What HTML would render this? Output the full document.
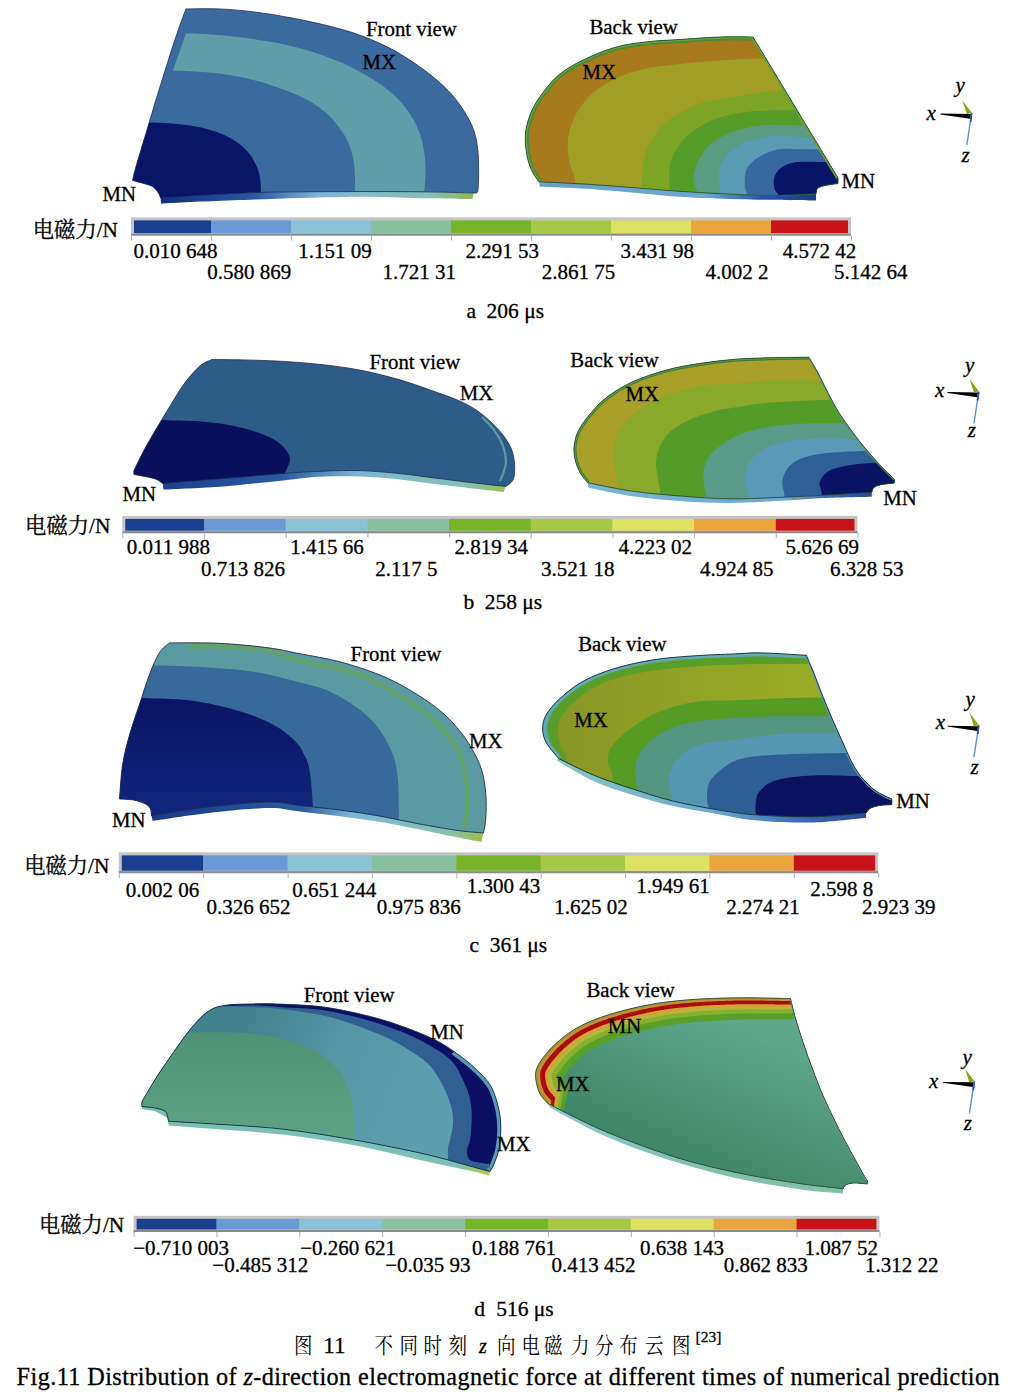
<!DOCTYPE html>
<html><head><meta charset="utf-8"><title>Fig.11</title>
<style>
html,body{margin:0;padding:0;background:#fff;}
body{width:1012px;height:1398px;overflow:hidden;}
svg{display:block;}
text{font-family:"Liberation Serif","Noto Serif CJK SC",serif;fill:#000;stroke:#000;stroke-width:0.3px;}
</style></head><body>
<svg width="1012" height="1398" viewBox="0 0 1012 1398">
<defs>
<linearGradient id="gCo" x1="560" y1="0" x2="800" y2="0" gradientUnits="userSpaceOnUse">
 <stop offset="0" stop-color="#889624"/><stop offset="1" stop-color="#98ac26"/></linearGradient>
<linearGradient id="gCn" x1="0" y1="700" x2="0" y2="820" gradientUnits="userSpaceOnUse">
 <stop offset="0" stop-color="#0a1464"/><stop offset="1" stop-color="#12267e"/></linearGradient>
<linearGradient id="gDt" x1="250" y1="1010" x2="420" y2="1080" gradientUnits="userSpaceOnUse">
 <stop offset="0" stop-color="#42828e"/><stop offset="0.5" stop-color="#5596a4"/><stop offset="1" stop-color="#5d9eac"/></linearGradient>
<linearGradient id="gDs" x1="0" y1="1030" x2="0" y2="1130" gradientUnits="userSpaceOnUse">
 <stop offset="0" stop-color="#4f9277"/><stop offset="1" stop-color="#5ca181"/></linearGradient>
<linearGradient id="gDBs" x1="700" y1="1010" x2="640" y2="1160" gradientUnits="userSpaceOnUse">
 <stop offset="0" stop-color="#5ea68c"/><stop offset="1" stop-color="#3c8264"/></linearGradient>
<linearGradient id="gA" x1="161" y1="0" x2="474" y2="0" gradientUnits="userSpaceOnUse">
 <stop offset="0" stop-color="#14307e"/><stop offset="0.3" stop-color="#2a5aa0"/><stop offset="0.5" stop-color="#7ab6d6"/><stop offset="0.85" stop-color="#86c0b8"/><stop offset="1" stop-color="#8ab850"/></linearGradient>
<linearGradient id="gAB" x1="540" y1="0" x2="816" y2="0" gradientUnits="userSpaceOnUse">
 <stop offset="0" stop-color="#6aa0c8"/><stop offset="0.6" stop-color="#6aa8d0"/><stop offset="0.8" stop-color="#2a58a0"/><stop offset="1" stop-color="#1a3a8a"/></linearGradient>
<linearGradient id="gB" x1="134" y1="0" x2="505" y2="0" gradientUnits="userSpaceOnUse">
 <stop offset="0" stop-color="#1a3a8a"/><stop offset="0.4" stop-color="#2a5aa0"/><stop offset="0.6" stop-color="#7ab6d6"/><stop offset="0.9" stop-color="#86c0b0"/><stop offset="1" stop-color="#9ac050"/></linearGradient>
<linearGradient id="gBB" x1="588" y1="0" x2="870" y2="0" gradientUnits="userSpaceOnUse">
 <stop offset="0" stop-color="#7ab8d0"/><stop offset="0.7" stop-color="#6aa8d0"/><stop offset="0.85" stop-color="#3a6ab0"/><stop offset="1" stop-color="#2a4a9a"/></linearGradient>
<linearGradient id="gC" x1="154" y1="0" x2="482" y2="0" gradientUnits="userSpaceOnUse">
 <stop offset="0" stop-color="#1a3a8a"/><stop offset="0.45" stop-color="#2a5aa0"/><stop offset="0.6" stop-color="#7ab6d6"/><stop offset="0.9" stop-color="#86c0b0"/><stop offset="1" stop-color="#9ac050"/></linearGradient>
<linearGradient id="gCB" x1="558" y1="0" x2="866" y2="0" gradientUnits="userSpaceOnUse">
 <stop offset="0" stop-color="#8ac8c0"/><stop offset="0.5" stop-color="#6aa8d0"/><stop offset="0.8" stop-color="#3a6ab0"/><stop offset="1" stop-color="#2a4a9a"/></linearGradient>
<linearGradient id="gD" x1="142" y1="0" x2="490" y2="0" gradientUnits="userSpaceOnUse">
 <stop offset="0" stop-color="#7ac0b0"/><stop offset="0.9" stop-color="#7ac0b8"/><stop offset="1" stop-color="#b8c840"/></linearGradient>
<linearGradient id="gDB" x1="550" y1="0" x2="843" y2="0" gradientUnits="userSpaceOnUse">
 <stop offset="0" stop-color="#8ac8d8"/><stop offset="0.5" stop-color="#80c0b0"/><stop offset="1" stop-color="#80c0a8"/></linearGradient>

<clipPath id="cp1"><path d="M185.9 8.9 C191.3 8.9 207.2 8.4 218.5 8.9 C229.8 9.4 241.9 10.4 254.0 11.9 C266.1 13.4 278.3 15.4 291.0 17.8 C303.7 20.2 318.2 23.3 330.0 26.3 C341.8 29.3 351.1 31.8 361.6 35.8 C372.1 39.8 382.6 44.2 393.2 50.0 C403.8 55.8 415.7 63.7 424.9 70.6 C434.1 77.4 442.0 84.2 448.6 91.1 C455.2 97.9 460.2 105.1 464.4 111.7 C468.6 118.3 471.7 124.4 473.9 130.7 C476.1 137.0 477.0 143.0 477.8 149.6 C478.6 156.2 478.6 163.3 478.6 170.2 C478.6 177.1 478.6 187.0 477.8 190.8 C477.0 194.6 474.6 192.6 474.0 193.0 C465.0 192.8 441.5 192.0 420.0 191.8 C398.5 191.6 371.7 191.5 345.0 191.6 C318.3 191.7 284.0 191.8 259.8 192.4 C235.6 193.1 216.6 194.6 200.0 195.5 C183.4 196.4 167.1 197.6 160.5 198.0 C160.2 197.2 159.9 195.3 158.7 193.5 C157.5 191.7 155.7 188.6 153.3 187.0 C151.0 185.4 148.1 184.8 144.6 183.7 C141.1 182.6 134.6 180.9 132.6 180.4 C133.1 178.3 133.1 176.7 135.6 168.0 C138.1 159.3 143.4 141.7 147.4 128.5 C151.4 115.3 154.7 103.8 159.3 89.0 C163.9 74.2 170.6 52.8 175.0 39.5 C179.4 26.2 184.1 14.0 185.9 8.9 Z"/></clipPath>
<clipPath id="cp2"><path d="M753.0 37.0 C747.5 37.0 732.2 36.6 720.0 37.0 C707.8 37.4 692.2 38.7 680.0 39.5 C667.8 40.3 657.4 40.6 646.5 41.9 C635.6 43.2 625.4 44.4 614.9 47.4 C604.4 50.4 592.4 55.5 583.2 60.0 C574.0 64.5 566.1 69.0 559.5 74.3 C552.9 79.6 548.2 85.9 543.7 91.7 C539.2 97.5 535.5 103.0 532.6 109.0 C529.7 115.0 527.5 122.2 526.3 128.0 C525.1 133.8 525.2 138.5 525.5 143.8 C525.8 149.1 526.7 154.8 527.9 159.6 C529.1 164.3 530.8 168.6 532.6 172.3 C534.5 176.0 537.9 180.2 539.0 181.8 C549.0 182.3 575.5 183.4 599.0 185.0 C622.5 186.6 656.7 189.7 680.0 191.3 C703.3 192.9 723.2 193.8 739.0 194.5 C754.8 195.2 762.2 195.6 775.0 195.5 C787.8 195.4 809.2 194.2 816.0 194.0 C816.3 193.0 816.0 189.5 818.0 188.0 C820.0 186.5 824.7 185.7 828.0 185.0 C831.3 184.3 836.3 183.8 838.0 183.6 L838.0 178.0 L753.0 37.0 Z"/></clipPath>
<clipPath id="cp3"><path d="M212.0 359.5 C217.3 359.6 231.8 359.6 243.6 359.9 C255.4 360.2 270.4 360.6 283.1 361.4 C295.8 362.1 307.3 363.0 320.0 364.4 C332.7 365.8 346.3 367.5 359.5 370.0 C372.7 372.5 387.5 376.4 399.0 379.6 C410.5 382.9 418.8 386.0 428.7 389.5 C438.6 393.0 450.1 396.8 458.3 400.4 C466.5 404.0 472.1 407.2 478.0 411.3 C483.9 415.4 489.4 420.5 494.0 425.1 C498.6 429.7 502.7 434.3 505.8 438.9 C508.9 443.5 511.2 447.9 512.7 452.8 C514.2 457.8 514.7 464.0 514.7 468.6 C514.7 473.2 514.2 477.4 512.7 480.4 C511.2 483.4 507.0 485.4 505.8 486.4 C501.2 485.9 489.2 484.7 478.0 483.4 C466.8 482.1 451.8 480.1 438.6 478.5 C425.4 476.9 412.2 474.8 399.0 473.5 C385.8 472.2 372.7 471.0 359.5 470.6 C346.3 470.2 332.7 470.8 320.0 471.3 C307.3 471.8 299.1 472.3 283.1 473.5 C267.1 474.7 243.9 476.9 223.8 478.5 C203.7 480.1 172.7 482.6 162.5 483.4 C161.5 482.7 159.5 480.5 156.6 479.4 C153.7 478.2 148.6 477.3 144.8 476.5 C141.0 475.7 135.7 474.8 133.9 474.5 L133.9 470.6 C135.7 467.0 140.7 456.4 144.8 448.8 C148.9 441.2 154.3 432.2 158.6 425.0 C162.9 417.8 166.2 412.2 170.5 405.3 C174.8 398.4 179.4 390.2 184.3 383.6 C189.2 377.0 195.4 369.8 200.0 365.8 C204.6 361.8 210.0 360.6 212.0 359.5 Z"/></clipPath>
<clipPath id="cp4"><path d="M808.9 357.2 C802.0 357.3 779.9 357.4 767.6 357.8 C755.3 358.2 746.4 358.4 735.0 359.3 C723.6 360.2 710.9 361.7 699.4 363.5 C687.9 365.3 677.0 367.1 665.8 370.2 C654.6 373.3 642.0 377.5 632.2 382.0 C622.4 386.5 614.0 391.8 607.0 397.1 C600.0 402.4 595.0 408.3 590.2 413.9 C585.4 419.5 581.1 425.4 578.4 430.7 C575.7 436.0 574.8 441.1 574.2 445.8 C573.6 450.6 574.0 454.7 575.0 459.2 C576.0 463.7 578.0 468.8 580.1 472.7 C582.2 476.6 586.4 481.0 587.7 482.7 C595.1 484.1 616.4 488.9 632.2 491.1 C648.0 493.4 666.3 494.9 682.6 496.2 C698.9 497.5 712.7 498.6 730.0 498.8 C747.3 499.0 770.6 497.7 786.3 497.1 C801.9 496.5 809.6 496.0 823.9 495.2 C838.1 494.4 863.8 492.9 871.8 492.4 C872.1 491.6 872.2 488.9 873.6 487.7 C875.0 486.4 876.8 485.7 880.2 484.9 C883.7 484.1 891.9 483.3 894.3 483.0 L894.3 479.2 C891.9 476.9 885.1 470.3 880.2 465.2 C875.4 460.1 869.9 453.9 865.2 448.3 C860.5 442.7 856.4 437.3 852.0 431.4 C847.6 425.4 843.0 419.2 838.9 412.6 C834.8 406.0 831.0 398.6 827.6 392.0 C824.2 385.4 821.3 379.0 818.2 373.2 C815.1 367.4 810.5 359.9 808.9 357.2 Z"/></clipPath>
<clipPath id="cp5"><path d="M169.3 642.9 C177.5 643.0 202.2 642.5 218.7 643.3 C235.2 644.1 254.6 646.0 268.1 647.8 C281.7 649.5 288.1 651.5 300.0 653.8 C311.9 656.1 326.3 658.2 339.5 661.7 C352.7 665.2 367.5 670.0 379.0 674.6 C390.5 679.2 398.8 683.6 408.7 689.4 C418.6 695.2 430.1 702.6 438.3 709.2 C446.5 715.8 452.5 722.3 458.1 728.9 C463.7 735.5 467.9 741.8 471.9 748.7 C475.8 755.6 479.5 762.8 481.8 770.4 C484.1 778.0 485.1 786.3 485.8 794.2 C486.5 802.1 486.2 811.4 485.8 817.9 C485.4 824.4 483.9 830.5 483.5 833.0 C479.3 832.6 468.9 832.0 458.1 830.5 C447.3 829.0 431.8 826.2 418.6 823.8 C405.4 821.4 392.2 818.2 379.0 815.9 C365.8 813.6 352.7 811.7 339.5 810.0 C326.3 808.3 311.9 806.8 300.0 805.5 C288.1 804.2 283.3 801.8 268.1 802.0 C252.9 802.2 228.2 804.7 208.8 807.0 C189.4 809.3 161.1 814.3 151.5 815.8 C151.3 814.7 151.5 811.0 150.5 809.0 C149.5 807.0 148.4 805.5 145.6 804.0 C142.8 802.5 138.0 800.8 133.7 800.0 C129.3 799.2 121.9 799.2 119.5 799.0 C119.6 798.0 119.4 799.0 119.9 793.1 C120.5 787.2 121.1 773.4 122.8 763.5 C124.5 753.6 127.0 743.7 129.8 733.8 C132.6 723.9 136.3 714.1 139.6 704.2 C142.9 694.3 146.2 683.1 149.5 674.5 C152.8 665.9 156.1 658.1 159.4 652.8 C162.7 647.5 167.7 644.5 169.3 642.9 Z"/></clipPath>
<clipPath id="cp6"><path d="M806.4 655.3 C798.9 654.9 773.2 653.1 761.3 652.9 C749.4 652.7 746.4 653.4 735.0 653.9 C723.6 654.4 706.7 654.9 693.1 655.9 C679.5 656.9 666.8 657.7 653.6 659.8 C640.4 661.9 625.5 665.2 614.0 668.7 C602.5 672.2 592.6 676.3 584.4 680.6 C576.2 684.9 570.2 689.8 564.6 694.4 C559.0 699.0 554.2 703.9 550.8 708.2 C547.3 712.5 545.2 716.1 543.9 720.1 C542.6 724.1 542.4 728.0 542.9 732.0 C543.4 736.0 544.3 739.4 546.9 743.8 C549.5 748.2 556.7 756.1 558.7 758.6 C564.6 761.4 581.8 770.3 594.3 775.4 C606.8 780.5 620.6 785.0 633.8 789.3 C647.0 793.6 658.9 797.6 673.3 801.1 C687.7 804.6 706.0 807.9 720.0 810.2 C734.0 812.5 742.0 813.9 757.6 815.0 C773.2 816.1 795.8 817.1 813.9 816.8 C832.0 816.5 857.4 813.6 866.1 813.0 C866.8 812.2 868.0 809.5 870.2 808.3 C872.5 807.0 876.0 806.1 879.6 805.5 C883.2 804.9 889.8 804.8 891.8 804.6 L891.8 799.0 C890.7 798.5 888.2 797.7 885.2 796.1 C882.2 794.5 878.1 792.9 874.0 789.6 C869.9 786.3 864.6 781.1 860.8 776.4 C857.0 771.7 854.5 767.3 851.4 761.4 C848.3 755.5 845.1 747.7 842.0 740.8 C838.9 733.9 835.8 727.3 832.7 720.1 C829.6 712.9 826.4 705.4 823.3 697.6 C820.2 689.8 816.7 680.2 813.9 673.2 C811.1 666.2 807.6 658.3 806.4 655.3 Z"/></clipPath>
<clipPath id="cp7"><path d="M141.9 1101.7 C144.1 1098.1 150.7 1086.6 154.8 1080.0 C158.9 1073.4 162.3 1068.5 166.6 1062.2 C170.9 1055.9 175.9 1048.7 180.5 1042.4 C185.1 1036.1 189.7 1029.8 194.3 1024.6 C198.9 1019.4 203.1 1014.7 208.0 1011.5 C212.9 1008.3 216.4 1006.8 224.0 1005.5 C231.6 1004.2 244.3 1004.1 253.6 1003.9 C262.9 1003.7 268.4 1003.6 280.0 1004.1 C291.6 1004.6 309.0 1005.1 323.5 1007.0 C338.0 1008.9 354.3 1012.6 367.0 1015.7 C379.7 1018.8 388.7 1021.6 399.6 1025.4 C410.5 1029.2 423.1 1034.2 432.2 1038.5 C441.3 1042.8 446.8 1046.4 454.0 1051.5 C461.2 1056.6 469.6 1063.1 475.7 1068.9 C481.8 1074.7 487.0 1079.5 490.9 1086.3 C494.8 1093.1 497.2 1102.4 498.9 1109.6 C500.5 1116.8 500.8 1122.8 500.8 1129.4 C500.8 1136.0 500.0 1143.3 498.9 1149.1 C497.8 1154.9 495.5 1160.3 494.0 1164.0 C492.5 1167.7 490.7 1170.2 490.0 1171.5 C488.0 1171.0 488.9 1171.2 478.0 1168.3 C467.1 1165.4 445.4 1158.8 424.6 1154.0 C403.8 1149.2 377.1 1144.0 353.4 1139.8 C329.7 1135.6 306.0 1131.8 282.3 1129.1 C258.6 1126.4 230.1 1125.1 211.1 1123.8 C192.1 1122.5 175.6 1121.7 168.5 1121.3 C168.3 1120.5 168.2 1118.4 167.6 1116.7 C167.0 1115.0 167.0 1112.5 164.9 1111.0 C162.8 1109.5 158.6 1108.8 154.8 1108.0 C151.0 1107.2 144.1 1106.8 141.9 1106.5 L141.9 1101.7 Z"/></clipPath>
<clipPath id="cp8"><path d="M790.5 998.5 C781.6 998.4 754.0 997.6 736.9 997.8 C719.8 998.0 702.8 998.6 688.1 999.8 C673.4 1001.0 661.8 1002.3 648.6 1004.8 C635.4 1007.3 620.5 1011.0 609.0 1014.6 C597.5 1018.2 587.6 1022.2 579.4 1026.5 C571.2 1030.8 565.2 1035.7 559.6 1040.3 C554.0 1044.9 549.6 1049.6 545.8 1054.2 C542.0 1058.8 538.5 1063.7 536.9 1068.0 C535.2 1072.3 535.4 1075.6 535.9 1079.9 C536.4 1084.2 537.9 1089.8 539.9 1093.7 C541.9 1097.7 546.5 1101.9 547.8 1103.6 C555.7 1107.5 579.6 1120.1 595.0 1127.0 C610.4 1133.9 624.2 1139.2 640.0 1145.0 C655.8 1150.8 672.3 1156.6 690.0 1161.5 C707.7 1166.4 727.5 1170.8 746.3 1174.6 C765.1 1178.3 786.6 1181.7 802.7 1184.0 C818.8 1186.3 836.3 1187.9 843.0 1188.7 C843.5 1188.1 844.1 1185.9 845.8 1185.0 C847.5 1184.1 849.7 1183.3 853.3 1183.1 C856.9 1182.9 865.0 1183.8 867.4 1184.0 L867.4 1180.3 C866.9 1179.7 866.6 1180.0 864.6 1176.5 C862.6 1173.0 858.6 1165.8 855.2 1159.6 C851.8 1153.3 847.8 1146.2 844.0 1139.0 C840.2 1131.8 836.5 1124.2 832.7 1116.4 C828.9 1108.6 824.9 1100.1 821.4 1092.0 C817.9 1083.9 815.1 1076.0 812.0 1067.6 C808.9 1059.1 805.5 1049.8 802.7 1041.3 C799.9 1032.8 797.1 1024.0 795.1 1016.9 C793.1 1009.8 791.3 1001.6 790.5 998.5 Z"/></clipPath></defs>
<rect width="1012" height="1398" fill="#fff"/>
<path d="M160.5 197.5 C167.1 197.1 183.4 195.9 200.0 195.0 C216.6 194.1 235.6 192.6 259.8 191.9 C284.0 191.2 318.3 191.2 345.0 191.1 C371.7 191.0 398.5 191.1 420.0 191.3 C441.5 191.5 465.0 192.3 474.0 192.5 L472.3 199.0 C463.6 198.9 441.2 198.5 420.0 198.2 C398.8 197.8 376.1 196.6 345.0 196.9 C313.9 197.2 264.4 199.1 233.7 200.2 C203.0 201.3 173.1 202.9 161.0 203.5 Z" fill="url(#gA)"/>
<path d="M185.9 8.9 C191.3 8.9 207.2 8.4 218.5 8.9 C229.8 9.4 241.9 10.4 254.0 11.9 C266.1 13.4 278.3 15.4 291.0 17.8 C303.7 20.2 318.2 23.3 330.0 26.3 C341.8 29.3 351.1 31.8 361.6 35.8 C372.1 39.8 382.6 44.2 393.2 50.0 C403.8 55.8 415.7 63.7 424.9 70.6 C434.1 77.4 442.0 84.2 448.6 91.1 C455.2 97.9 460.2 105.1 464.4 111.7 C468.6 118.3 471.7 124.4 473.9 130.7 C476.1 137.0 477.0 143.0 477.8 149.6 C478.6 156.2 478.6 163.3 478.6 170.2 C478.6 177.1 478.6 187.0 477.8 190.8 C477.0 194.6 474.6 192.6 474.0 193.0 C465.0 192.8 441.5 192.0 420.0 191.8 C398.5 191.6 371.7 191.5 345.0 191.6 C318.3 191.7 284.0 191.8 259.8 192.4 C235.6 193.1 216.6 194.6 200.0 195.5 C183.4 196.4 167.1 197.6 160.5 198.0 C160.2 197.2 159.9 195.3 158.7 193.5 C157.5 191.7 155.7 188.6 153.3 187.0 C151.0 185.4 148.1 184.8 144.6 183.7 C141.1 182.6 134.6 180.9 132.6 180.4 C133.1 178.3 133.1 176.7 135.6 168.0 C138.1 159.3 143.4 141.7 147.4 128.5 C151.4 115.3 154.7 103.8 159.3 89.0 C163.9 74.2 170.6 52.8 175.0 39.5 C179.4 26.2 184.1 14.0 185.9 8.9 Z" fill="#3a6a9e"/>
<g clip-path="url(#cp1)">
<path d="M186.0 33.3 C192.4 33.7 210.7 34.2 224.5 35.6 C238.3 37.0 255.4 39.1 269.0 41.5 C282.6 43.9 294.2 46.6 306.0 50.0 C317.8 53.4 329.3 57.4 340.0 62.0 C350.7 66.6 361.0 72.0 370.0 77.5 C379.0 83.0 387.3 88.9 394.0 95.0 C400.7 101.1 405.7 107.5 410.0 114.0 C414.3 120.5 417.6 127.2 420.0 134.0 C422.4 140.8 423.7 148.2 424.6 155.0 C425.5 161.8 425.6 168.3 425.5 175.0 C425.4 181.7 424.2 191.7 424.0 195.0 L354.5 195.0 C354.6 192.5 355.2 185.8 355.0 180.0 C354.8 174.2 354.7 166.3 353.5 160.0 C352.3 153.7 350.6 147.7 348.0 142.0 C345.4 136.3 342.0 131.2 338.0 126.0 C334.0 120.8 330.5 116.0 324.0 111.0 C317.5 106.0 310.4 100.8 299.0 95.7 C287.6 90.6 269.9 84.2 255.4 80.4 C240.9 76.6 225.8 74.4 212.0 72.8 C198.2 71.2 179.3 71.0 172.8 70.7 Z" fill="#5f9ea8"/>
<path d="M140.0 122.6 C144.2 122.7 156.7 122.5 165.0 123.0 C173.3 123.5 182.2 124.2 190.0 125.5 C197.8 126.8 205.0 128.2 212.0 130.5 C219.0 132.8 226.2 135.6 232.0 139.0 C237.8 142.4 242.9 146.5 247.0 151.0 C251.1 155.5 254.3 161.2 256.5 166.0 C258.7 170.8 259.6 174.7 260.3 180.0 C261.1 185.3 260.9 195.0 261.0 198.0 L120.0 205.0 L120.0 122.6 Z" fill="#0a1567"/>

</g>
<path d="M185.9 8.9 C191.3 8.9 207.2 8.4 218.5 8.9 C229.8 9.4 241.9 10.4 254.0 11.9 C266.1 13.4 278.3 15.4 291.0 17.8 C303.7 20.2 318.2 23.3 330.0 26.3 C341.8 29.3 351.1 31.8 361.6 35.8 C372.1 39.8 382.6 44.2 393.2 50.0 C403.8 55.8 415.7 63.7 424.9 70.6 C434.1 77.4 442.0 84.2 448.6 91.1 C455.2 97.9 460.2 105.1 464.4 111.7 C468.6 118.3 471.7 124.4 473.9 130.7 C476.1 137.0 477.0 143.0 477.8 149.6 C478.6 156.2 478.6 163.3 478.6 170.2 C478.6 177.1 478.6 187.0 477.8 190.8 C477.0 194.6 474.6 192.6 474.0 193.0 C465.0 192.8 441.5 192.0 420.0 191.8 C398.5 191.6 371.7 191.5 345.0 191.6 C318.3 191.7 284.0 191.8 259.8 192.4 C235.6 193.1 216.6 194.6 200.0 195.5 C183.4 196.4 167.1 197.6 160.5 198.0 C160.2 197.2 159.9 195.3 158.7 193.5 C157.5 191.7 155.7 188.6 153.3 187.0 C151.0 185.4 148.1 184.8 144.6 183.7 C141.1 182.6 134.6 180.9 132.6 180.4 C133.1 178.3 133.1 176.7 135.6 168.0 C138.1 159.3 143.4 141.7 147.4 128.5 C151.4 115.3 154.7 103.8 159.3 89.0 C163.9 74.2 170.6 52.8 175.0 39.5 C179.4 26.2 184.1 14.0 185.9 8.9 Z" fill="none" stroke="#1a2c5a" stroke-width="0.8"/>
<path d="M539.0 181.0 C549.0 181.5 575.5 182.6 599.0 184.2 C622.5 185.8 656.7 188.9 680.0 190.5 C703.3 192.1 723.2 193.0 739.0 193.7 C754.8 194.4 762.2 194.8 775.0 194.7 C787.8 194.6 809.2 193.4 816.0 193.2 L816.0 200.5 C803.2 200.3 761.7 199.9 739.0 199.3 C716.3 198.7 703.3 198.4 680.0 196.8 C656.7 195.2 622.4 191.4 599.0 189.7 C575.6 188.0 549.7 187.3 539.8 186.8 Z" fill="url(#gAB)"/>
<path d="M753.0 37.0 C747.5 37.0 732.2 36.6 720.0 37.0 C707.8 37.4 692.2 38.7 680.0 39.5 C667.8 40.3 657.4 40.6 646.5 41.9 C635.6 43.2 625.4 44.4 614.9 47.4 C604.4 50.4 592.4 55.5 583.2 60.0 C574.0 64.5 566.1 69.0 559.5 74.3 C552.9 79.6 548.2 85.9 543.7 91.7 C539.2 97.5 535.5 103.0 532.6 109.0 C529.7 115.0 527.5 122.2 526.3 128.0 C525.1 133.8 525.2 138.5 525.5 143.8 C525.8 149.1 526.7 154.8 527.9 159.6 C529.1 164.3 530.8 168.6 532.6 172.3 C534.5 176.0 537.9 180.2 539.0 181.8 C549.0 182.3 575.5 183.4 599.0 185.0 C622.5 186.6 656.7 189.7 680.0 191.3 C703.3 192.9 723.2 193.8 739.0 194.5 C754.8 195.2 762.2 195.6 775.0 195.5 C787.8 195.4 809.2 194.2 816.0 194.0 C816.3 193.0 816.0 189.5 818.0 188.0 C820.0 186.5 824.7 185.7 828.0 185.0 C831.3 184.3 836.3 183.8 838.0 183.6 L838.0 178.0 L753.0 37.0 Z" fill="#a87a1e"/>
<g clip-path="url(#cp2)">
<path d="M756.0 58.5 C750.0 58.8 732.7 59.6 720.0 60.5 C707.3 61.4 692.2 62.7 680.0 64.0 C667.8 65.3 656.5 66.4 646.5 68.5 C636.5 70.6 627.8 73.3 620.0 76.5 C612.2 79.7 605.8 83.4 600.0 87.5 C594.2 91.6 589.3 95.9 585.0 101.0 C580.7 106.1 576.8 111.7 574.0 118.0 C571.2 124.3 568.8 132.0 568.0 139.0 C567.2 146.0 567.8 153.1 569.0 160.0 C570.2 166.9 573.8 174.0 575.0 180.2 C576.2 186.4 575.8 194.2 576.0 197.0 L900.0 210.0 L900.0 58.5 Z" fill="#a09e24"/>
<path d="M785.0 88.0 C784.5 88.3 786.2 89.2 782.0 90.0 C777.8 90.8 767.2 91.5 760.0 92.5 C752.8 93.5 748.9 94.0 738.8 95.9 C728.7 97.8 710.8 99.8 699.3 103.8 C687.8 107.8 677.5 113.7 669.6 119.6 C661.7 125.5 656.2 132.8 651.9 139.4 C647.6 146.0 645.6 152.6 644.0 159.2 C642.4 165.8 642.3 172.6 642.0 178.9 C641.7 185.2 642.0 194.0 642.0 197.0 L900.0 210.0 L900.0 88.0 Z" fill="#7ea426"/>
<path d="M797.0 109.8 C796.5 109.8 798.5 109.7 794.0 109.8 C789.5 109.9 777.5 110.2 770.0 110.5 C762.5 110.8 757.2 110.5 748.7 111.7 C740.2 112.9 727.9 114.7 719.0 117.7 C710.1 120.7 702.2 124.6 695.3 129.5 C688.4 134.4 681.8 141.0 677.5 147.3 C673.2 153.6 670.9 160.2 669.6 167.1 C668.3 174.0 669.5 183.8 669.6 188.8 C669.7 193.8 669.9 195.6 670.0 197.0 L900.0 210.0 L900.0 109.8 Z" fill="#569c28"/>
<path d="M806.0 125.6 C805.7 125.6 808.3 125.7 804.0 125.6 C799.7 125.5 787.6 125.0 780.0 125.0 C772.4 125.0 767.1 124.2 758.6 125.6 C750.1 127.0 737.2 130.2 729.0 133.5 C720.8 136.8 714.5 140.4 709.2 145.3 C703.9 150.2 699.9 157.5 697.3 163.1 C694.7 168.7 693.4 173.9 693.4 178.9 C693.4 183.9 696.5 189.8 697.3 192.8 C698.1 195.8 697.9 196.3 698.0 197.0 L900.0 210.0 L900.0 125.6 Z" fill="#5a9b84"/>
<path d="M812.0 137.4 C811.7 137.4 813.7 137.6 810.0 137.4 C806.3 137.2 796.9 136.7 790.0 136.5 C783.1 136.3 776.4 135.2 768.5 136.4 C760.6 137.6 749.7 140.3 742.8 143.4 C735.9 146.5 731.0 150.3 727.0 155.2 C723.0 160.1 720.0 166.7 719.0 173.0 C718.0 179.3 720.7 188.8 721.0 192.8 C721.3 196.8 721.0 196.3 721.0 197.0 L900.0 210.0 L900.0 137.4 Z" fill="#5a9bb4"/>
<path d="M820.0 149.3 C819.7 149.3 821.3 149.3 818.0 149.3 C814.7 149.3 806.6 149.2 800.0 149.2 C793.4 149.2 785.2 148.0 778.3 149.3 C771.4 150.6 763.9 153.9 758.6 157.2 C753.3 160.5 749.0 164.4 746.7 169.0 C744.4 173.6 744.7 180.9 744.7 184.9 C744.7 188.9 746.3 190.8 746.7 192.8 C747.1 194.8 747.0 196.3 747.0 197.0 L900.0 210.0 L900.0 149.3 Z" fill="#3769a0"/>
<path d="M828.0 162.1 C827.6 162.1 830.8 162.1 825.8 162.1 C820.8 162.1 805.2 161.3 798.0 162.1 C790.8 162.9 786.2 164.6 782.3 167.1 C778.4 169.6 775.7 173.4 774.4 177.0 C773.1 180.6 773.8 185.9 774.4 188.8 C775.0 191.8 777.5 192.8 778.3 194.7 C779.1 196.6 778.9 199.1 779.0 200.0 L900.0 210.0 L900.0 162.1 Z" fill="#0a1466"/>
<path d="M753.0 37.0 C747.5 37.0 732.2 36.6 720.0 37.0 C707.8 37.4 692.2 38.7 680.0 39.5 C667.8 40.3 657.4 40.6 646.5 41.9 C635.6 43.2 625.4 44.4 614.9 47.4 C604.4 50.4 592.4 55.5 583.2 60.0 C574.0 64.5 566.1 69.0 559.5 74.3 C552.9 79.6 548.2 85.9 543.7 91.7 C539.2 97.5 535.5 103.0 532.6 109.0 C529.7 115.0 527.5 122.2 526.3 128.0 C525.1 133.8 525.2 138.5 525.5 143.8 C525.8 149.1 526.7 154.8 527.9 159.6 C529.1 164.3 530.8 168.6 532.6 172.3 C534.5 176.0 537.9 180.2 539.0 181.8" fill="none" stroke="#4a8a3a" stroke-width="7" stroke-linejoin="round"/>
<path d="M753.0 37.0 C747.5 37.0 732.2 36.6 720.0 37.0 C707.8 37.4 692.2 38.7 680.0 39.5 C667.8 40.3 657.4 40.6 646.5 41.9 C635.6 43.2 625.4 44.4 614.9 47.4 C604.4 50.4 592.4 55.5 583.2 60.0 C574.0 64.5 566.1 69.0 559.5 74.3 C552.9 79.6 548.2 85.9 543.7 91.7 C539.2 97.5 535.5 103.0 532.6 109.0 C529.7 115.0 527.5 122.2 526.3 128.0 C525.1 133.8 525.2 138.5 525.5 143.8 C525.8 149.1 526.7 154.8 527.9 159.6 C529.1 164.3 530.8 168.6 532.6 172.3 C534.5 176.0 537.9 180.2 539.0 181.8" fill="none" stroke="#6aa23a" stroke-width="3.5" stroke-linejoin="round"/>
<path d="M753 37 L838 178" fill="none" stroke="#6aa23a" stroke-width="4" stroke-linejoin="round"/>

</g>
<path d="M753.0 37.0 C747.5 37.0 732.2 36.6 720.0 37.0 C707.8 37.4 692.2 38.7 680.0 39.5 C667.8 40.3 657.4 40.6 646.5 41.9 C635.6 43.2 625.4 44.4 614.9 47.4 C604.4 50.4 592.4 55.5 583.2 60.0 C574.0 64.5 566.1 69.0 559.5 74.3 C552.9 79.6 548.2 85.9 543.7 91.7 C539.2 97.5 535.5 103.0 532.6 109.0 C529.7 115.0 527.5 122.2 526.3 128.0 C525.1 133.8 525.2 138.5 525.5 143.8 C525.8 149.1 526.7 154.8 527.9 159.6 C529.1 164.3 530.8 168.6 532.6 172.3 C534.5 176.0 537.9 180.2 539.0 181.8 C549.0 182.3 575.5 183.4 599.0 185.0 C622.5 186.6 656.7 189.7 680.0 191.3 C703.3 192.9 723.2 193.8 739.0 194.5 C754.8 195.2 762.2 195.6 775.0 195.5 C787.8 195.4 809.2 194.2 816.0 194.0 C816.3 193.0 816.0 189.5 818.0 188.0 C820.0 186.5 824.7 185.7 828.0 185.0 C831.3 184.3 836.3 183.8 838.0 183.6 L838.0 178.0 L753.0 37.0 Z" fill="none" stroke="#2a5a3a" stroke-width="1.0"/>
<path d="M162.5 482.4 C172.7 481.6 203.7 479.1 223.8 477.5 C243.9 475.9 267.1 473.7 283.1 472.5 C299.1 471.3 307.3 470.8 320.0 470.3 C332.7 469.8 346.3 469.2 359.5 469.6 C372.7 470.0 385.8 471.2 399.0 472.5 C412.2 473.8 425.4 475.9 438.6 477.5 C451.8 479.1 466.8 481.1 478.0 482.4 C489.2 483.7 501.2 484.9 505.8 485.4 L503.8 491.9 C492.9 490.6 459.4 486.8 438.6 484.4 C417.9 482.0 398.2 478.8 379.3 477.5 C360.4 476.2 341.0 476.0 325.0 476.5 C309.0 477.0 300.0 478.8 283.1 480.4 C266.2 482.0 243.7 484.9 223.8 486.4 C203.9 487.9 173.6 489.0 163.5 489.5 Z" fill="url(#gB)"/>
<path d="M212.0 359.5 C217.3 359.6 231.8 359.6 243.6 359.9 C255.4 360.2 270.4 360.6 283.1 361.4 C295.8 362.1 307.3 363.0 320.0 364.4 C332.7 365.8 346.3 367.5 359.5 370.0 C372.7 372.5 387.5 376.4 399.0 379.6 C410.5 382.9 418.8 386.0 428.7 389.5 C438.6 393.0 450.1 396.8 458.3 400.4 C466.5 404.0 472.1 407.2 478.0 411.3 C483.9 415.4 489.4 420.5 494.0 425.1 C498.6 429.7 502.7 434.3 505.8 438.9 C508.9 443.5 511.2 447.9 512.7 452.8 C514.2 457.8 514.7 464.0 514.7 468.6 C514.7 473.2 514.2 477.4 512.7 480.4 C511.2 483.4 507.0 485.4 505.8 486.4 C501.2 485.9 489.2 484.7 478.0 483.4 C466.8 482.1 451.8 480.1 438.6 478.5 C425.4 476.9 412.2 474.8 399.0 473.5 C385.8 472.2 372.7 471.0 359.5 470.6 C346.3 470.2 332.7 470.8 320.0 471.3 C307.3 471.8 299.1 472.3 283.1 473.5 C267.1 474.7 243.9 476.9 223.8 478.5 C203.7 480.1 172.7 482.6 162.5 483.4 C161.5 482.7 159.5 480.5 156.6 479.4 C153.7 478.2 148.6 477.3 144.8 476.5 C141.0 475.7 135.7 474.8 133.9 474.5 L133.9 470.6 C135.7 467.0 140.7 456.4 144.8 448.8 C148.9 441.2 154.3 432.2 158.6 425.0 C162.9 417.8 166.2 412.2 170.5 405.3 C174.8 398.4 179.4 390.2 184.3 383.6 C189.2 377.0 195.4 369.8 200.0 365.8 C204.6 361.8 210.0 360.6 212.0 359.5 Z" fill="#2e5c88"/>
<g clip-path="url(#cp3)">
<path d="M150.0 420.2 C152.8 420.2 159.1 420.0 166.5 420.2 C173.9 420.4 184.6 420.5 194.2 421.1 C203.8 421.8 213.9 422.5 223.8 424.1 C233.7 425.8 245.3 428.5 253.5 431.0 C261.7 433.5 267.9 436.0 273.2 439.0 C278.4 442.0 282.2 445.5 285.0 448.8 C287.8 452.1 289.7 455.4 290.0 458.7 C290.3 462.0 288.2 465.7 287.0 468.6 C285.8 471.5 283.7 474.8 283.0 476.0 L120.0 490.0 L120.0 420.2 Z" fill="#0a0f5c"/>
<path d="M482.0 417.0 C484.0 419.2 490.5 425.2 494.0 430.0 C497.5 434.8 501.0 440.7 503.0 446.0 C505.0 451.3 506.0 457.3 506.0 462.0 C506.0 466.7 504.0 470.8 503.0 474.0 C502.0 477.2 500.3 479.8 499.8 481.0" fill="none" stroke="#5a9aa0" stroke-width="2.2" stroke-linejoin="round"/>

</g>
<path d="M212.0 359.5 C217.3 359.6 231.8 359.6 243.6 359.9 C255.4 360.2 270.4 360.6 283.1 361.4 C295.8 362.1 307.3 363.0 320.0 364.4 C332.7 365.8 346.3 367.5 359.5 370.0 C372.7 372.5 387.5 376.4 399.0 379.6 C410.5 382.9 418.8 386.0 428.7 389.5 C438.6 393.0 450.1 396.8 458.3 400.4 C466.5 404.0 472.1 407.2 478.0 411.3 C483.9 415.4 489.4 420.5 494.0 425.1 C498.6 429.7 502.7 434.3 505.8 438.9 C508.9 443.5 511.2 447.9 512.7 452.8 C514.2 457.8 514.7 464.0 514.7 468.6 C514.7 473.2 514.2 477.4 512.7 480.4 C511.2 483.4 507.0 485.4 505.8 486.4 C501.2 485.9 489.2 484.7 478.0 483.4 C466.8 482.1 451.8 480.1 438.6 478.5 C425.4 476.9 412.2 474.8 399.0 473.5 C385.8 472.2 372.7 471.0 359.5 470.6 C346.3 470.2 332.7 470.8 320.0 471.3 C307.3 471.8 299.1 472.3 283.1 473.5 C267.1 474.7 243.9 476.9 223.8 478.5 C203.7 480.1 172.7 482.6 162.5 483.4 C161.5 482.7 159.5 480.5 156.6 479.4 C153.7 478.2 148.6 477.3 144.8 476.5 C141.0 475.7 135.7 474.8 133.9 474.5 L133.9 470.6 C135.7 467.0 140.7 456.4 144.8 448.8 C148.9 441.2 154.3 432.2 158.6 425.0 C162.9 417.8 166.2 412.2 170.5 405.3 C174.8 398.4 179.4 390.2 184.3 383.6 C189.2 377.0 195.4 369.8 200.0 365.8 C204.6 361.8 210.0 360.6 212.0 359.5 Z" fill="none" stroke="#1a2c50" stroke-width="0.8"/>
<path d="M587.7 481.7 C595.1 483.1 616.4 487.9 632.2 490.1 C648.0 492.4 666.3 493.9 682.6 495.2 C698.9 496.5 712.7 497.6 730.0 497.8 C747.3 498.0 770.6 496.7 786.3 496.1 C801.9 495.5 809.6 495.0 823.9 494.2 C838.1 493.4 863.8 491.9 871.8 491.4 L871.8 496.7 C863.8 496.9 838.1 497.4 823.9 498.0 C809.6 498.6 801.9 499.7 786.3 500.5 C770.6 501.3 747.3 502.8 730.0 502.9 C712.7 503.0 698.9 502.3 682.6 501.2 C666.3 500.1 647.9 498.4 632.2 496.2 C616.5 494.0 595.8 489.2 588.5 487.8 Z" fill="url(#gBB)"/>
<path d="M808.9 357.2 C802.0 357.3 779.9 357.4 767.6 357.8 C755.3 358.2 746.4 358.4 735.0 359.3 C723.6 360.2 710.9 361.7 699.4 363.5 C687.9 365.3 677.0 367.1 665.8 370.2 C654.6 373.3 642.0 377.5 632.2 382.0 C622.4 386.5 614.0 391.8 607.0 397.1 C600.0 402.4 595.0 408.3 590.2 413.9 C585.4 419.5 581.1 425.4 578.4 430.7 C575.7 436.0 574.8 441.1 574.2 445.8 C573.6 450.6 574.0 454.7 575.0 459.2 C576.0 463.7 578.0 468.8 580.1 472.7 C582.2 476.6 586.4 481.0 587.7 482.7 C595.1 484.1 616.4 488.9 632.2 491.1 C648.0 493.4 666.3 494.9 682.6 496.2 C698.9 497.5 712.7 498.6 730.0 498.8 C747.3 499.0 770.6 497.7 786.3 497.1 C801.9 496.5 809.6 496.0 823.9 495.2 C838.1 494.4 863.8 492.9 871.8 492.4 C872.1 491.6 872.2 488.9 873.6 487.7 C875.0 486.4 876.8 485.7 880.2 484.9 C883.7 484.1 891.9 483.3 894.3 483.0 L894.3 479.2 C891.9 476.9 885.1 470.3 880.2 465.2 C875.4 460.1 869.9 453.9 865.2 448.3 C860.5 442.7 856.4 437.3 852.0 431.4 C847.6 425.4 843.0 419.2 838.9 412.6 C834.8 406.0 831.0 398.6 827.6 392.0 C824.2 385.4 821.3 379.0 818.2 373.2 C815.1 367.4 810.5 359.9 808.9 357.2 Z" fill="#a8a028"/>
<g clip-path="url(#cp4)">
<path d="M816.0 380.0 C807.9 380.1 781.1 380.1 767.6 380.7 C754.1 381.3 746.4 382.7 735.0 383.6 C723.6 384.5 710.9 384.2 699.4 386.2 C687.9 388.2 675.6 391.6 665.8 395.4 C656.0 399.2 647.6 404.0 640.6 408.8 C633.6 413.6 628.0 419.0 623.8 424.0 C619.6 429.0 617.1 434.0 615.4 439.0 C613.7 444.0 613.7 448.9 613.7 454.2 C613.7 459.5 614.5 466.0 615.4 471.0 C616.2 476.0 618.2 478.7 618.8 484.4 C619.4 490.1 619.0 501.6 619.0 505.0 L950.0 505.0 L950.0 380.0 Z" fill="#8aa82a"/>
<path d="M840.0 400.0 C837.2 400.0 831.7 399.8 823.4 400.0 C815.1 400.2 800.4 400.9 790.0 401.5 C779.6 402.1 770.3 402.6 761.1 403.6 C751.9 404.6 742.4 406.3 735.0 407.5 C727.6 408.7 724.2 408.7 716.7 410.7 C709.2 412.7 697.8 416.1 690.0 419.6 C682.2 423.2 675.0 427.6 670.0 432.0 C665.0 436.4 662.3 441.0 660.0 446.0 C657.7 451.0 656.3 456.7 656.0 462.0 C655.7 467.3 657.2 472.2 658.0 478.0 C658.8 483.8 660.3 492.5 660.8 497.0 C661.3 501.5 661.0 503.7 661.0 505.0 L950.0 505.0 L950.0 400.0 Z" fill="#559b28"/>
<path d="M850.0 424.0 C849.1 424.0 847.7 424.1 844.7 424.0 C841.8 423.9 840.3 423.1 832.3 423.1 C824.3 423.1 807.1 423.4 796.7 424.0 C786.3 424.6 778.9 425.2 770.0 426.7 C761.1 428.2 751.4 429.9 743.4 432.9 C735.4 435.9 727.9 440.2 722.0 444.5 C716.1 448.8 710.9 453.7 707.8 458.7 C704.7 463.7 703.6 468.5 703.3 474.7 C703.0 480.9 705.5 490.9 706.0 496.0 C706.5 501.1 706.0 503.5 706.0 505.0 L950.0 505.0 L950.0 424.0 Z" fill="#5a9a88"/>
<path d="M866.0 441.0 C864.8 440.8 864.6 440.5 859.0 440.0 C853.4 439.5 842.7 438.2 832.3 438.2 C821.9 438.2 807.1 438.7 796.7 440.0 C786.3 441.3 777.4 443.1 770.0 446.2 C762.6 449.3 756.4 453.6 752.3 458.7 C748.1 463.8 745.7 470.3 745.1 476.5 C744.5 482.7 748.1 491.2 748.7 496.0 C749.4 500.8 749.0 503.5 749.0 505.0 L950.0 505.0 L950.0 441.0 Z" fill="#5a9ab8"/>
<path d="M880.0 450.7 C878.3 450.7 878.0 450.4 870.0 450.7 C862.0 451.0 843.0 451.5 832.3 452.5 C821.6 453.5 812.7 454.7 805.6 456.9 C798.5 459.1 793.5 461.9 789.6 465.8 C785.8 469.7 783.4 475.2 782.5 480.0 C781.6 484.8 784.0 490.1 784.3 494.3 C784.6 498.5 784.5 503.2 784.5 505.0 L950.0 505.0 L950.0 450.7 Z" fill="#2e5f96"/>
<path d="M890.0 463.0 C886.7 463.0 877.2 462.6 870.0 463.1 C862.8 463.6 853.4 464.5 846.5 465.8 C839.6 467.1 833.2 468.4 828.7 471.1 C824.2 473.8 821.0 478.2 819.8 481.8 C818.6 485.4 821.2 488.6 821.6 492.5 C822.0 496.4 821.9 502.9 822.0 505.0 L950.0 505.0 L950.0 463.0 Z" fill="#0a1264"/>
<path d="M808.9 357.2 C802.0 357.3 779.9 357.4 767.6 357.8 C755.3 358.2 746.4 358.4 735.0 359.3 C723.6 360.2 710.9 361.7 699.4 363.5 C687.9 365.3 677.0 367.1 665.8 370.2 C654.6 373.3 642.0 377.5 632.2 382.0 C622.4 386.5 614.0 391.8 607.0 397.1 C600.0 402.4 595.0 408.3 590.2 413.9 C585.4 419.5 581.1 425.4 578.4 430.7 C575.7 436.0 574.8 441.1 574.2 445.8 C573.6 450.6 574.0 454.7 575.0 459.2 C576.0 463.7 578.0 468.8 580.1 472.7 C582.2 476.6 586.4 481.0 587.7 482.7" fill="none" stroke="#3f7a3f" stroke-width="5" stroke-linejoin="round"/>
<path d="M808.9 357.2 C802.0 357.3 779.9 357.4 767.6 357.8 C755.3 358.2 746.4 358.4 735.0 359.3 C723.6 360.2 710.9 361.7 699.4 363.5 C687.9 365.3 677.0 367.1 665.8 370.2 C654.6 373.3 642.0 377.5 632.2 382.0 C622.4 386.5 614.0 391.8 607.0 397.1 C600.0 402.4 595.0 408.3 590.2 413.9 C585.4 419.5 581.1 425.4 578.4 430.7 C575.7 436.0 574.8 441.1 574.2 445.8 C573.6 450.6 574.0 454.7 575.0 459.2 C576.0 463.7 578.0 468.8 580.1 472.7 C582.2 476.6 586.4 481.0 587.7 482.7" fill="none" stroke="#62a040" stroke-width="2.6" stroke-linejoin="round"/>
<path d="M894.3 479.2 C891.9 476.9 885.1 470.3 880.2 465.2 C875.4 460.1 869.9 453.9 865.2 448.3 C860.5 442.7 856.4 437.3 852.0 431.4 C847.6 425.4 843.0 419.2 838.9 412.6 C834.8 406.0 831.0 398.6 827.6 392.0 C824.2 385.4 821.3 379.0 818.2 373.2 C815.1 367.4 810.5 359.9 808.9 357.2" fill="none" stroke="#5a9a60" stroke-width="2.6" stroke-linejoin="round"/>

</g>
<path d="M808.9 357.2 C802.0 357.3 779.9 357.4 767.6 357.8 C755.3 358.2 746.4 358.4 735.0 359.3 C723.6 360.2 710.9 361.7 699.4 363.5 C687.9 365.3 677.0 367.1 665.8 370.2 C654.6 373.3 642.0 377.5 632.2 382.0 C622.4 386.5 614.0 391.8 607.0 397.1 C600.0 402.4 595.0 408.3 590.2 413.9 C585.4 419.5 581.1 425.4 578.4 430.7 C575.7 436.0 574.8 441.1 574.2 445.8 C573.6 450.6 574.0 454.7 575.0 459.2 C576.0 463.7 578.0 468.8 580.1 472.7 C582.2 476.6 586.4 481.0 587.7 482.7 C595.1 484.1 616.4 488.9 632.2 491.1 C648.0 493.4 666.3 494.9 682.6 496.2 C698.9 497.5 712.7 498.6 730.0 498.8 C747.3 499.0 770.6 497.7 786.3 497.1 C801.9 496.5 809.6 496.0 823.9 495.2 C838.1 494.4 863.8 492.9 871.8 492.4 C872.1 491.6 872.2 488.9 873.6 487.7 C875.0 486.4 876.8 485.7 880.2 484.9 C883.7 484.1 891.9 483.3 894.3 483.0 L894.3 479.2 C891.9 476.9 885.1 470.3 880.2 465.2 C875.4 460.1 869.9 453.9 865.2 448.3 C860.5 442.7 856.4 437.3 852.0 431.4 C847.6 425.4 843.0 419.2 838.9 412.6 C834.8 406.0 831.0 398.6 827.6 392.0 C824.2 385.4 821.3 379.0 818.2 373.2 C815.1 367.4 810.5 359.9 808.9 357.2 Z" fill="none" stroke="#2a4a3a" stroke-width="0.9"/>
<path d="M151.5 814.8 C161.1 813.3 189.4 808.3 208.8 806.0 C228.2 803.7 252.9 801.2 268.1 801.0 C283.3 800.8 288.1 803.2 300.0 804.5 C311.9 805.8 326.3 807.3 339.5 809.0 C352.7 810.7 365.8 812.6 379.0 814.9 C392.2 817.2 405.4 820.4 418.6 822.8 C431.8 825.2 447.3 828.0 458.1 829.5 C468.9 831.0 479.3 831.6 483.5 832.0 L481.5 842.0 C477.6 841.3 475.2 841.0 458.1 837.6 C441.0 834.2 405.4 826.1 379.0 821.8 C352.6 817.4 318.5 813.8 300.0 811.5 C281.5 809.2 283.3 807.8 268.1 808.0 C252.9 808.2 228.1 810.8 208.8 812.9 C189.5 815.0 161.9 819.5 152.5 820.8 Z" fill="url(#gC)"/>
<path d="M169.3 642.9 C177.5 643.0 202.2 642.5 218.7 643.3 C235.2 644.1 254.6 646.0 268.1 647.8 C281.7 649.5 288.1 651.5 300.0 653.8 C311.9 656.1 326.3 658.2 339.5 661.7 C352.7 665.2 367.5 670.0 379.0 674.6 C390.5 679.2 398.8 683.6 408.7 689.4 C418.6 695.2 430.1 702.6 438.3 709.2 C446.5 715.8 452.5 722.3 458.1 728.9 C463.7 735.5 467.9 741.8 471.9 748.7 C475.8 755.6 479.5 762.8 481.8 770.4 C484.1 778.0 485.1 786.3 485.8 794.2 C486.5 802.1 486.2 811.4 485.8 817.9 C485.4 824.4 483.9 830.5 483.5 833.0 C479.3 832.6 468.9 832.0 458.1 830.5 C447.3 829.0 431.8 826.2 418.6 823.8 C405.4 821.4 392.2 818.2 379.0 815.9 C365.8 813.6 352.7 811.7 339.5 810.0 C326.3 808.3 311.9 806.8 300.0 805.5 C288.1 804.2 283.3 801.8 268.1 802.0 C252.9 802.2 228.2 804.7 208.8 807.0 C189.4 809.3 161.1 814.3 151.5 815.8 C151.3 814.7 151.5 811.0 150.5 809.0 C149.5 807.0 148.4 805.5 145.6 804.0 C142.8 802.5 138.0 800.8 133.7 800.0 C129.3 799.2 121.9 799.2 119.5 799.0 C119.6 798.0 119.4 799.0 119.9 793.1 C120.5 787.2 121.1 773.4 122.8 763.5 C124.5 753.6 127.0 743.7 129.8 733.8 C132.6 723.9 136.3 714.1 139.6 704.2 C142.9 694.3 146.2 683.1 149.5 674.5 C152.8 665.9 156.1 658.1 159.4 652.8 C162.7 647.5 167.7 644.5 169.3 642.9 Z" fill="#5a9ba2"/>
<g clip-path="url(#cp5)">
<path d="M190.0 646.5 C194.8 646.5 205.7 645.5 218.7 646.2 C231.7 646.9 254.6 648.1 268.1 650.5 C281.7 652.9 284.8 656.8 300.0 660.8 C315.2 664.8 341.2 667.9 359.3 674.6 C377.4 681.4 395.5 692.9 408.7 701.3 C421.9 709.7 430.1 716.8 438.3 725.0 C446.5 733.2 453.5 741.8 458.1 750.7 C462.7 759.6 464.5 768.8 466.0 778.3 C467.5 787.8 467.3 799.8 467.0 808.0 C466.7 816.2 464.5 824.4 464.0 827.7" fill="none" stroke="#64a06e" stroke-width="5" stroke-linejoin="round"/>
<path d="M150.0 665.6 C152.2 665.6 153.6 665.3 163.4 665.6 C173.2 665.9 193.0 666.5 208.8 667.6 C224.6 668.8 243.0 670.0 258.2 672.5 C273.4 675.0 288.1 679.4 300.0 682.5 C311.9 685.6 319.7 686.9 329.6 691.4 C339.5 695.9 351.1 703.0 359.3 709.2 C367.5 715.5 373.4 721.3 379.0 728.9 C384.6 736.5 389.8 746.4 392.9 754.6 C396.0 762.8 396.8 768.4 397.8 778.3 C398.8 788.2 398.6 804.4 398.8 813.9 C399.0 823.4 399.0 831.5 399.0 835.0 L110.0 835.0 L110.0 665.6 Z" fill="#37699b"/>
<path d="M140.0 698.2 C141.1 698.2 138.4 697.9 146.6 698.2 C154.8 698.5 175.3 698.6 189.0 700.2 C202.7 701.9 215.4 704.5 228.6 708.1 C241.8 711.7 257.2 716.7 268.1 722.0 C279.0 727.3 287.5 733.8 293.8 739.7 C300.1 745.6 303.0 751.9 305.7 757.5 C308.4 763.1 308.8 765.5 310.0 773.3 C311.2 781.0 312.3 796.2 312.8 804.0 C313.3 811.8 313.0 817.3 313.0 820.0 L110.0 825.0 L110.0 698.2 Z" fill="url(#gCn)"/>

</g>
<path d="M169.3 642.9 C177.5 643.0 202.2 642.5 218.7 643.3 C235.2 644.1 254.6 646.0 268.1 647.8 C281.7 649.5 288.1 651.5 300.0 653.8 C311.9 656.1 326.3 658.2 339.5 661.7 C352.7 665.2 367.5 670.0 379.0 674.6 C390.5 679.2 398.8 683.6 408.7 689.4 C418.6 695.2 430.1 702.6 438.3 709.2 C446.5 715.8 452.5 722.3 458.1 728.9 C463.7 735.5 467.9 741.8 471.9 748.7 C475.8 755.6 479.5 762.8 481.8 770.4 C484.1 778.0 485.1 786.3 485.8 794.2 C486.5 802.1 486.2 811.4 485.8 817.9 C485.4 824.4 483.9 830.5 483.5 833.0 C479.3 832.6 468.9 832.0 458.1 830.5 C447.3 829.0 431.8 826.2 418.6 823.8 C405.4 821.4 392.2 818.2 379.0 815.9 C365.8 813.6 352.7 811.7 339.5 810.0 C326.3 808.3 311.9 806.8 300.0 805.5 C288.1 804.2 283.3 801.8 268.1 802.0 C252.9 802.2 228.2 804.7 208.8 807.0 C189.4 809.3 161.1 814.3 151.5 815.8 C151.3 814.7 151.5 811.0 150.5 809.0 C149.5 807.0 148.4 805.5 145.6 804.0 C142.8 802.5 138.0 800.8 133.7 800.0 C129.3 799.2 121.9 799.2 119.5 799.0 C119.6 798.0 119.4 799.0 119.9 793.1 C120.5 787.2 121.1 773.4 122.8 763.5 C124.5 753.6 127.0 743.7 129.8 733.8 C132.6 723.9 136.3 714.1 139.6 704.2 C142.9 694.3 146.2 683.1 149.5 674.5 C152.8 665.9 156.1 658.1 159.4 652.8 C162.7 647.5 167.7 644.5 169.3 642.9 Z" fill="none" stroke="#1a2c50" stroke-width="0.9"/>
<path d="M558.7 757.6 C564.6 760.4 581.8 769.3 594.3 774.4 C606.8 779.5 620.6 784.0 633.8 788.3 C647.0 792.6 658.9 796.6 673.3 800.1 C687.7 803.6 706.0 806.9 720.0 809.2 C734.0 811.5 742.0 812.9 757.6 814.0 C773.2 815.1 795.8 816.1 813.9 815.8 C832.0 815.5 857.4 812.6 866.1 812.0 L866.1 817.7 C857.4 818.5 832.0 821.9 813.9 822.4 C795.8 822.9 773.2 821.9 757.6 820.6 C742.0 819.3 734.0 816.9 720.0 814.5 C706.0 812.1 687.7 809.3 673.3 806.1 C658.9 802.9 647.0 799.3 633.8 795.2 C620.6 791.1 607.1 787.2 594.3 781.4 C581.4 775.6 563.0 764.1 556.7 760.6 Z" fill="url(#gCB)"/>
<path d="M806.4 655.3 C798.9 654.9 773.2 653.1 761.3 652.9 C749.4 652.7 746.4 653.4 735.0 653.9 C723.6 654.4 706.7 654.9 693.1 655.9 C679.5 656.9 666.8 657.7 653.6 659.8 C640.4 661.9 625.5 665.2 614.0 668.7 C602.5 672.2 592.6 676.3 584.4 680.6 C576.2 684.9 570.2 689.8 564.6 694.4 C559.0 699.0 554.2 703.9 550.8 708.2 C547.3 712.5 545.2 716.1 543.9 720.1 C542.6 724.1 542.4 728.0 542.9 732.0 C543.4 736.0 544.3 739.4 546.9 743.8 C549.5 748.2 556.7 756.1 558.7 758.6 C564.6 761.4 581.8 770.3 594.3 775.4 C606.8 780.5 620.6 785.0 633.8 789.3 C647.0 793.6 658.9 797.6 673.3 801.1 C687.7 804.6 706.0 807.9 720.0 810.2 C734.0 812.5 742.0 813.9 757.6 815.0 C773.2 816.1 795.8 817.1 813.9 816.8 C832.0 816.5 857.4 813.6 866.1 813.0 C866.8 812.2 868.0 809.5 870.2 808.3 C872.5 807.0 876.0 806.1 879.6 805.5 C883.2 804.9 889.8 804.8 891.8 804.6 L891.8 799.0 C890.7 798.5 888.2 797.7 885.2 796.1 C882.2 794.5 878.1 792.9 874.0 789.6 C869.9 786.3 864.6 781.1 860.8 776.4 C857.0 771.7 854.5 767.3 851.4 761.4 C848.3 755.5 845.1 747.7 842.0 740.8 C838.9 733.9 835.8 727.3 832.7 720.1 C829.6 712.9 826.4 705.4 823.3 697.6 C820.2 689.8 816.7 680.2 813.9 673.2 C811.1 666.2 807.6 658.3 806.4 655.3 Z" fill="#5aa4a4"/>
<g clip-path="url(#cp6)">
<path d="M800.0 658.0 C793.5 657.8 772.1 656.7 761.3 656.5 C750.5 656.3 746.4 656.6 735.0 657.0 C723.6 657.4 706.7 657.9 693.1 658.8 C679.5 659.7 666.8 660.5 653.6 662.5 C640.4 664.5 625.3 667.5 614.0 671.0 C602.7 674.5 593.8 679.2 586.0 683.5 C578.2 687.8 572.3 692.1 567.0 696.5 C561.7 700.9 557.1 705.8 554.0 710.0 C550.9 714.2 549.3 718.2 548.3 722.0 C547.3 725.8 547.3 729.3 547.8 733.0 C548.2 736.7 549.3 740.2 551.0 744.0 C552.7 747.8 556.8 754.0 558.0 756.0 L552.0 780.0 L600.0 830.0 L950.0 830.0 L950.0 660.0 Z" fill="#5a9e2a"/>
<path d="M804.0 664.0 C796.9 664.0 772.8 663.9 761.3 664.0 C749.8 664.1 746.4 664.1 735.0 664.6 C723.6 665.1 706.7 665.7 693.1 666.7 C679.5 667.7 666.8 668.5 653.6 670.5 C640.4 672.5 624.6 675.8 614.0 679.0 C603.4 682.2 596.7 686.2 590.0 690.0 C583.3 693.8 578.5 698.0 574.0 702.0 C569.5 706.0 565.5 710.3 563.0 714.0 C560.5 717.7 559.5 720.5 558.7 724.0 C557.9 727.5 557.6 731.3 558.0 735.0 C558.4 738.7 559.5 742.2 561.0 746.0 C562.5 749.8 566.0 756.0 567.0 758.0 L560.0 790.0 L600.0 830.0 L950.0 830.0 L950.0 664.0 Z" fill="url(#gCo)"/>
<path d="M814.0 697.6 C807.7 697.8 789.5 698.0 776.3 698.5 C763.1 699.0 748.9 699.7 735.0 700.3 C721.1 700.9 706.7 700.0 693.1 702.3 C679.5 704.6 665.1 708.9 653.6 714.2 C642.1 719.5 631.2 728.0 623.9 733.9 C616.6 739.8 612.6 744.8 610.0 749.7 C607.4 754.7 607.8 759.6 608.1 763.6 C608.4 767.6 611.0 767.4 612.0 773.5 C613.0 779.6 613.7 795.6 614.0 800.0 L950.0 830.0 L950.0 697.6 Z" fill="#559b24"/>
<path d="M822.0 716.3 C814.4 716.3 790.8 716.0 776.3 716.3 C761.8 716.6 748.9 717.1 735.0 718.1 C721.1 719.1 705.0 719.8 693.1 722.1 C681.2 724.4 671.7 727.7 663.5 732.0 C655.3 736.3 648.3 742.5 643.7 747.8 C639.1 753.1 637.1 758.0 635.8 763.6 C634.5 769.2 635.5 777.5 635.8 781.4 C636.1 785.3 637.4 782.5 637.8 787.3 C638.2 792.1 638.0 806.2 638.0 810.0 L950.0 830.0 L950.0 716.3 Z" fill="#559682"/>
<path d="M831.0 733.2 C821.9 733.4 792.3 733.1 776.3 734.2 C760.3 735.3 747.2 738.3 735.0 739.9 C722.8 741.5 711.6 741.5 703.0 743.8 C694.4 746.1 688.5 749.4 683.2 753.7 C677.9 758.0 673.7 764.6 671.4 769.5 C669.1 774.4 669.4 778.3 669.4 783.3 C669.4 788.2 671.0 793.9 671.4 799.2 C671.8 804.5 671.9 812.4 672.0 815.0 L950.0 830.0 L950.0 733.2 Z" fill="#5596b0"/>
<path d="M846.0 753.0 C834.4 753.3 794.2 753.7 776.3 754.8 C758.4 755.9 748.4 756.7 738.8 759.5 C729.2 762.3 723.8 767.5 718.8 771.5 C713.8 775.5 710.9 778.7 708.9 783.3 C706.9 787.9 707.0 794.9 707.0 799.2 C707.0 803.5 708.7 805.5 709.0 809.0 C709.3 812.5 709.0 818.2 709.0 820.0 L950.0 830.0 L950.0 753.0 Z" fill="#2d5f96"/>
<path d="M862.0 776.4 C854.0 776.2 828.2 774.9 813.9 775.5 C799.6 776.1 785.4 777.5 776.3 780.2 C767.2 782.9 762.8 787.4 759.4 791.5 C756.0 795.6 756.3 799.9 755.7 804.6 C755.1 809.4 756.0 817.4 756.0 820.0 L950.0 830.0 L950.0 776.4 Z" fill="#0a1260"/>
<path d="M806.4 655.3 C798.9 654.9 773.2 653.1 761.3 652.9 C749.4 652.7 746.4 653.4 735.0 653.9 C723.6 654.4 706.7 654.9 693.1 655.9 C679.5 656.9 666.8 657.7 653.6 659.8 C640.4 661.9 625.5 665.2 614.0 668.7 C602.5 672.2 592.6 676.3 584.4 680.6 C576.2 684.9 570.2 689.8 564.6 694.4 C559.0 699.0 554.2 703.9 550.8 708.2 C547.3 712.5 545.2 716.1 543.9 720.1 C542.6 724.1 542.4 728.0 542.9 732.0 C543.4 736.0 544.3 739.4 546.9 743.8 C549.5 748.2 556.7 756.1 558.7 758.6" fill="none" stroke="#62aab0" stroke-width="6" stroke-linejoin="round"/>
<path d="M891.8 799.0 C890.7 798.5 888.2 797.7 885.2 796.1 C882.2 794.5 878.1 792.9 874.0 789.6 C869.9 786.3 864.6 781.1 860.8 776.4 C857.0 771.7 854.5 767.3 851.4 761.4 C848.3 755.5 845.1 747.7 842.0 740.8 C838.9 733.9 835.8 727.3 832.7 720.1 C829.6 712.9 826.4 705.4 823.3 697.6 C820.2 689.8 816.7 680.2 813.9 673.2 C811.1 666.2 807.6 658.3 806.4 655.3" fill="none" stroke="#5a9ab0" stroke-width="3" stroke-linejoin="round"/>

</g>
<path d="M806.4 655.3 C798.9 654.9 773.2 653.1 761.3 652.9 C749.4 652.7 746.4 653.4 735.0 653.9 C723.6 654.4 706.7 654.9 693.1 655.9 C679.5 656.9 666.8 657.7 653.6 659.8 C640.4 661.9 625.5 665.2 614.0 668.7 C602.5 672.2 592.6 676.3 584.4 680.6 C576.2 684.9 570.2 689.8 564.6 694.4 C559.0 699.0 554.2 703.9 550.8 708.2 C547.3 712.5 545.2 716.1 543.9 720.1 C542.6 724.1 542.4 728.0 542.9 732.0 C543.4 736.0 544.3 739.4 546.9 743.8 C549.5 748.2 556.7 756.1 558.7 758.6 C564.6 761.4 581.8 770.3 594.3 775.4 C606.8 780.5 620.6 785.0 633.8 789.3 C647.0 793.6 658.9 797.6 673.3 801.1 C687.7 804.6 706.0 807.9 720.0 810.2 C734.0 812.5 742.0 813.9 757.6 815.0 C773.2 816.1 795.8 817.1 813.9 816.8 C832.0 816.5 857.4 813.6 866.1 813.0 C866.8 812.2 868.0 809.5 870.2 808.3 C872.5 807.0 876.0 806.1 879.6 805.5 C883.2 804.9 889.8 804.8 891.8 804.6 L891.8 799.0 C890.7 798.5 888.2 797.7 885.2 796.1 C882.2 794.5 878.1 792.9 874.0 789.6 C869.9 786.3 864.6 781.1 860.8 776.4 C857.0 771.7 854.5 767.3 851.4 761.4 C848.3 755.5 845.1 747.7 842.0 740.8 C838.9 733.9 835.8 727.3 832.7 720.1 C829.6 712.9 826.4 705.4 823.3 697.6 C820.2 689.8 816.7 680.2 813.9 673.2 C811.1 666.2 807.6 658.3 806.4 655.3 Z" fill="none" stroke="#1a3a4a" stroke-width="1.0"/>
<path d="M141.9 1104.7 L141.9 1106.5 C144.1 1106.8 151.0 1107.2 154.8 1108.0 C158.6 1108.8 162.8 1109.5 164.9 1111.0 C167.0 1112.5 167.0 1115.2 167.6 1116.7 C168.2 1118.2 168.3 1119.7 168.5 1120.3 C175.6 1120.7 192.1 1121.5 211.1 1122.8 C230.1 1124.1 258.6 1125.4 282.3 1128.1 C306.0 1130.8 329.7 1134.6 353.4 1138.8 C377.1 1143.0 403.8 1148.2 424.6 1153.0 C445.4 1157.8 467.1 1164.4 478.0 1167.3 C488.9 1170.2 488.0 1170.0 490.0 1170.5 L489.0 1175.6 C487.2 1175.1 488.7 1174.9 478.0 1172.5 C467.3 1170.1 445.4 1165.7 424.6 1161.1 C403.8 1156.5 377.1 1149.5 353.4 1145.1 C329.7 1140.7 306.0 1137.2 282.3 1134.5 C258.6 1131.8 230.1 1130.3 211.1 1128.8 C192.1 1127.3 175.6 1126.1 168.5 1125.6 L167.6 1118.0 L155.0 1111.0 L141.9 1109.3 Z" fill="url(#gD)"/>
<path d="M141.9 1101.7 C144.1 1098.1 150.7 1086.6 154.8 1080.0 C158.9 1073.4 162.3 1068.5 166.6 1062.2 C170.9 1055.9 175.9 1048.7 180.5 1042.4 C185.1 1036.1 189.7 1029.8 194.3 1024.6 C198.9 1019.4 203.1 1014.7 208.0 1011.5 C212.9 1008.3 216.4 1006.8 224.0 1005.5 C231.6 1004.2 244.3 1004.1 253.6 1003.9 C262.9 1003.7 268.4 1003.6 280.0 1004.1 C291.6 1004.6 309.0 1005.1 323.5 1007.0 C338.0 1008.9 354.3 1012.6 367.0 1015.7 C379.7 1018.8 388.7 1021.6 399.6 1025.4 C410.5 1029.2 423.1 1034.2 432.2 1038.5 C441.3 1042.8 446.8 1046.4 454.0 1051.5 C461.2 1056.6 469.6 1063.1 475.7 1068.9 C481.8 1074.7 487.0 1079.5 490.9 1086.3 C494.8 1093.1 497.2 1102.4 498.9 1109.6 C500.5 1116.8 500.8 1122.8 500.8 1129.4 C500.8 1136.0 500.0 1143.3 498.9 1149.1 C497.8 1154.9 495.5 1160.3 494.0 1164.0 C492.5 1167.7 490.7 1170.2 490.0 1171.5 C488.0 1171.0 488.9 1171.2 478.0 1168.3 C467.1 1165.4 445.4 1158.8 424.6 1154.0 C403.8 1149.2 377.1 1144.0 353.4 1139.8 C329.7 1135.6 306.0 1131.8 282.3 1129.1 C258.6 1126.4 230.1 1125.1 211.1 1123.8 C192.1 1122.5 175.6 1121.7 168.5 1121.3 C168.3 1120.5 168.2 1118.4 167.6 1116.7 C167.0 1115.0 167.0 1112.5 164.9 1111.0 C162.8 1109.5 158.6 1108.8 154.8 1108.0 C151.0 1107.2 144.1 1106.8 141.9 1106.5 L141.9 1101.7 Z" fill="#0a0f64"/>
<g clip-path="url(#cp7)">
<path d="M230.0 1003.0 C238.3 1003.7 264.4 1005.8 280.0 1007.0 C295.6 1008.2 309.0 1008.0 323.5 1010.2 C338.0 1012.4 354.3 1016.5 367.0 1020.0 C379.7 1023.5 390.6 1027.5 399.6 1030.9 C408.7 1034.4 414.1 1036.9 421.3 1040.7 C428.5 1044.5 437.4 1049.7 443.0 1053.7 C448.6 1057.8 451.7 1060.6 455.0 1065.0 C458.3 1069.4 460.7 1075.0 463.0 1080.0 C465.3 1085.0 467.6 1090.0 469.0 1095.0 C470.4 1100.0 471.1 1105.0 471.5 1110.0 C471.9 1115.0 471.8 1120.0 471.5 1125.0 C471.2 1130.0 470.8 1135.8 470.0 1140.0 C469.2 1144.2 467.3 1147.2 467.0 1150.0 C466.7 1152.8 467.2 1155.2 468.0 1157.0 C468.8 1158.8 468.7 1159.8 472.0 1161.0 C475.3 1162.2 485.3 1163.5 488.0 1164.0 L488.0 1180.0 L130.0 1180.0 L130.0 1003.0 Z" fill="#325f91"/>
<path d="M215.0 1006.0 C220.8 1006.2 239.2 1006.5 250.0 1007.0 C260.8 1007.5 267.8 1007.6 280.0 1009.1 C292.2 1010.6 310.8 1013.0 323.5 1015.7 C336.2 1018.4 345.2 1021.6 356.1 1025.4 C367.0 1029.2 378.9 1033.8 388.7 1038.5 C398.5 1043.2 407.6 1048.8 414.8 1053.7 C422.0 1058.6 427.0 1062.0 432.0 1068.0 C437.0 1074.0 441.7 1083.0 445.0 1090.0 C448.3 1097.0 450.7 1104.2 452.0 1110.0 C453.3 1115.8 453.3 1120.0 453.0 1125.0 C452.7 1130.0 450.8 1135.8 450.0 1140.0 C449.2 1144.2 448.3 1143.3 448.0 1150.0 C447.7 1156.7 448.0 1175.0 448.0 1180.0 L130.0 1180.0 L130.0 1006.0 Z" fill="url(#gDt)"/>
<path d="M185.0 1032.5 C186.2 1032.5 184.2 1032.5 192.3 1032.5 C200.4 1032.5 222.5 1032.1 233.8 1032.5 C245.1 1032.9 252.3 1034.0 260.0 1035.0 C267.7 1036.0 273.1 1036.8 280.0 1038.5 C286.9 1040.2 294.4 1042.1 301.7 1045.0 C308.9 1047.9 317.0 1051.2 323.5 1055.9 C330.0 1060.6 336.5 1067.5 340.9 1073.3 C345.2 1079.1 347.5 1084.6 349.6 1090.7 C351.7 1096.8 352.8 1103.0 353.4 1110.0 C354.0 1117.0 353.4 1126.0 353.4 1132.7 C353.4 1139.4 353.4 1147.1 353.4 1150.0 L130.0 1150.0 L130.0 1032.5 Z" fill="url(#gDs)"/>
<path d="M223.9 1004.9 C228.8 1004.7 244.2 1004.0 253.6 1003.9 C262.9 1003.8 268.4 1003.6 280.0 1004.1 C291.6 1004.6 316.2 1006.5 323.5 1007.0" fill="none" stroke="#0a1a5a" stroke-width="2.5" stroke-linejoin="round"/>
<path d="M454.0 1051.5 C457.6 1054.4 469.6 1063.1 475.7 1068.9 C481.8 1074.7 487.0 1079.5 490.9 1086.3 C494.8 1093.1 497.2 1102.4 498.9 1109.6 C500.5 1116.8 500.8 1122.8 500.8 1129.4 C500.8 1136.0 500.0 1143.3 498.9 1149.1 C497.8 1154.9 495.5 1160.3 494.0 1164.0 C492.5 1167.7 490.7 1170.2 490.0 1171.5" fill="none" stroke="#5a9ab8" stroke-width="7" stroke-linejoin="round"/>
<path d="M488 1164 L492 1172" fill="none" stroke="#3a8a70" stroke-width="1.2" stroke-linejoin="round"/>

</g>
<path d="M141.9 1101.7 C144.1 1098.1 150.7 1086.6 154.8 1080.0 C158.9 1073.4 162.3 1068.5 166.6 1062.2 C170.9 1055.9 175.9 1048.7 180.5 1042.4 C185.1 1036.1 189.7 1029.8 194.3 1024.6 C198.9 1019.4 203.1 1014.7 208.0 1011.5 C212.9 1008.3 216.4 1006.8 224.0 1005.5 C231.6 1004.2 244.3 1004.1 253.6 1003.9 C262.9 1003.7 268.4 1003.6 280.0 1004.1 C291.6 1004.6 309.0 1005.1 323.5 1007.0 C338.0 1008.9 354.3 1012.6 367.0 1015.7 C379.7 1018.8 388.7 1021.6 399.6 1025.4 C410.5 1029.2 423.1 1034.2 432.2 1038.5 C441.3 1042.8 446.8 1046.4 454.0 1051.5 C461.2 1056.6 469.6 1063.1 475.7 1068.9 C481.8 1074.7 487.0 1079.5 490.9 1086.3 C494.8 1093.1 497.2 1102.4 498.9 1109.6 C500.5 1116.8 500.8 1122.8 500.8 1129.4 C500.8 1136.0 500.0 1143.3 498.9 1149.1 C497.8 1154.9 495.5 1160.3 494.0 1164.0 C492.5 1167.7 490.7 1170.2 490.0 1171.5 C488.0 1171.0 488.9 1171.2 478.0 1168.3 C467.1 1165.4 445.4 1158.8 424.6 1154.0 C403.8 1149.2 377.1 1144.0 353.4 1139.8 C329.7 1135.6 306.0 1131.8 282.3 1129.1 C258.6 1126.4 230.1 1125.1 211.1 1123.8 C192.1 1122.5 175.6 1121.7 168.5 1121.3 C168.3 1120.5 168.2 1118.4 167.6 1116.7 C167.0 1115.0 167.0 1112.5 164.9 1111.0 C162.8 1109.5 158.6 1108.8 154.8 1108.0 C151.0 1107.2 144.1 1106.8 141.9 1106.5 L141.9 1101.7 Z" fill="none" stroke="#15304a" stroke-width="0.9"/>
<path d="M547.8 1102.6 C555.7 1106.5 579.6 1119.1 595.0 1126.0 C610.4 1132.9 624.2 1138.2 640.0 1144.0 C655.8 1149.8 672.3 1155.6 690.0 1160.5 C707.7 1165.4 727.5 1169.8 746.3 1173.6 C765.1 1177.3 786.6 1180.7 802.7 1183.0 C818.8 1185.3 836.3 1186.9 843.0 1187.7 L843.0 1193.4 C836.3 1192.8 818.8 1191.9 802.7 1189.7 C786.6 1187.5 765.1 1184.2 746.3 1180.3 C727.5 1176.4 707.7 1171.2 690.0 1166.2 C672.3 1161.2 655.8 1155.8 640.0 1150.0 C624.2 1144.2 610.0 1138.6 595.0 1131.5 C580.0 1124.4 557.3 1111.5 549.8 1107.5 Z" fill="url(#gDB)"/>
<path d="M790.5 998.5 C781.6 998.4 754.0 997.6 736.9 997.8 C719.8 998.0 702.8 998.6 688.1 999.8 C673.4 1001.0 661.8 1002.3 648.6 1004.8 C635.4 1007.3 620.5 1011.0 609.0 1014.6 C597.5 1018.2 587.6 1022.2 579.4 1026.5 C571.2 1030.8 565.2 1035.7 559.6 1040.3 C554.0 1044.9 549.6 1049.6 545.8 1054.2 C542.0 1058.8 538.5 1063.7 536.9 1068.0 C535.2 1072.3 535.4 1075.6 535.9 1079.9 C536.4 1084.2 537.9 1089.8 539.9 1093.7 C541.9 1097.7 546.5 1101.9 547.8 1103.6 C555.7 1107.5 579.6 1120.1 595.0 1127.0 C610.4 1133.9 624.2 1139.2 640.0 1145.0 C655.8 1150.8 672.3 1156.6 690.0 1161.5 C707.7 1166.4 727.5 1170.8 746.3 1174.6 C765.1 1178.3 786.6 1181.7 802.7 1184.0 C818.8 1186.3 836.3 1187.9 843.0 1188.7 C843.5 1188.1 844.1 1185.9 845.8 1185.0 C847.5 1184.1 849.7 1183.3 853.3 1183.1 C856.9 1182.9 865.0 1183.8 867.4 1184.0 L867.4 1180.3 C866.9 1179.7 866.6 1180.0 864.6 1176.5 C862.6 1173.0 858.6 1165.8 855.2 1159.6 C851.8 1153.3 847.8 1146.2 844.0 1139.0 C840.2 1131.8 836.5 1124.2 832.7 1116.4 C828.9 1108.6 824.9 1100.1 821.4 1092.0 C817.9 1083.9 815.1 1076.0 812.0 1067.6 C808.9 1059.1 805.5 1049.8 802.7 1041.3 C799.9 1032.8 797.1 1024.0 795.1 1016.9 C793.1 1009.8 791.3 1001.6 790.5 998.5 Z" fill="#a09632"/>
<g clip-path="url(#cp8)">
<path d="M790.5 998.5 L789.0 998.5 L787.3 998.4 L785.3 998.4 L783.1 998.4 L780.8 998.3 L778.2 998.3 L775.5 998.2 L772.7 998.1 L769.8 998.1 L766.8 998.0 L763.7 998.0 L760.6 997.9 L757.4 997.9 L754.3 997.8 L751.2 997.8 L748.2 997.8 L745.2 997.8 L742.3 997.8 L739.5 997.8 L736.9 997.8 L734.3 997.8 L731.8 997.9 L729.2 997.9 L726.7 998.0 L724.1 998.0 L721.6 998.1 L719.1 998.2 L716.6 998.3 L714.1 998.3 L711.6 998.4 L709.2 998.5 L706.7 998.7 L704.3 998.8 L701.9 998.9 L699.5 999.0 L697.2 999.2 L694.9 999.3 L692.6 999.5 L690.3 999.6 L688.1 999.8 L685.9 1000.0 L683.8 1000.2 L681.7 1000.3 L679.6 1000.5 L677.6 1000.7 L675.6 1000.9 L673.6 1001.1 L671.6 1001.4 L669.7 1001.6 L667.8 1001.8 L665.9 1002.1 L664.0 1002.3 L662.1 1002.6 L660.2 1002.9 L658.3 1003.1 L656.4 1003.4 L654.4 1003.8 L652.5 1004.1 L650.6 1004.4 L648.6 1004.8 L646.6 1005.2 L644.6 1005.6 L642.6 1006.0 L640.5 1006.4 L638.5 1006.9 L636.4 1007.3 L634.3 1007.8 L632.3 1008.3 L630.2 1008.8 L628.2 1009.3 L626.1 1009.8 L624.1 1010.3 L622.1 1010.8 L620.1 1011.4 L618.2 1011.9 L616.3 1012.4 L614.4 1013.0 L612.6 1013.5 L610.8 1014.1 L609.0 1014.6 L607.3 1015.1 L605.6 1015.7 L603.9 1016.3 L602.3 1016.8 L600.7 1017.4 L599.1 1018.0 L597.5 1018.5 L596.0 1019.1 L594.5 1019.7 L593.0 1020.3 L591.5 1020.9 L590.1 1021.5 L588.6 1022.1 L587.2 1022.7 L585.9 1023.3 L584.5 1024.0 L583.2 1024.6 L581.9 1025.2 L580.6 1025.9 L579.4 1026.5 L578.2 1027.1 L577.0 1027.8 L575.8 1028.5 L574.7 1029.1 L573.6 1029.8 L572.6 1030.5 L571.5 1031.2 L570.5 1031.9 L569.5 1032.6 L568.5 1033.3 L567.6 1034.0 L566.6 1034.7 L565.7 1035.4 L564.8 1036.1 L563.9 1036.8 L563.0 1037.5 L562.2 1038.2 L561.3 1038.9 L560.4 1039.6 L559.6 1040.3 L558.8 1041.0 L558.0 1041.7 L557.2 1042.4 L556.4 1043.1 L555.6 1043.8 L554.9 1044.5 L554.1 1045.2 L553.4 1045.9 L552.7 1046.6 L552.0 1047.2 L551.3 1047.9 L550.7 1048.6 L550.0 1049.3 L549.4 1050.0 L548.8 1050.7 L548.2 1051.4 L547.5 1052.1 L547.0 1052.8 L546.4 1053.5 L545.8 1054.2 L545.2 1054.9 L544.7 1055.6 L544.1 1056.3 L543.6 1057.0 L543.0 1057.7 L542.5 1058.4 L542.0 1059.1 L541.5 1059.8 L541.0 1060.5 L540.5 1061.2 L540.1 1061.9 L539.7 1062.6 L539.2 1063.3 L538.8 1064.0 L538.5 1064.7 L538.1 1065.4 L537.8 1066.0 L537.4 1066.7 L537.2 1067.4 L536.9 1068.0 L536.7 1068.6 L536.5 1069.3 L536.3 1069.9 L536.1 1070.5 L536.0 1071.1 L535.9 1071.6 L535.8 1072.2 L535.7 1072.8 L535.6 1073.4 L535.6 1074.0 L535.6 1074.5 L535.6 1075.1 L535.6 1075.7 L535.6 1076.3 L535.6 1076.8 L535.7 1077.4 L535.7 1078.0 L535.8 1078.6 L535.8 1079.3 L535.9 1079.9 L536.0 1080.6 L536.1 1081.2 L536.2 1081.9 L536.3 1082.6 L536.5 1083.3 L536.6 1084.0 L536.8 1084.7 L537.0 1085.5 L537.1 1086.2 L537.3 1086.9 L537.6 1087.6 L537.8 1088.4 L538.0 1089.1 L538.3 1089.8 L538.5 1090.5 L538.8 1091.2 L539.0 1091.8 L539.3 1092.5 L539.6 1093.1 L539.9 1093.7 L540.2 1094.3 L540.6 1094.9 L540.9 1095.5 L541.4 1096.1 L541.8 1096.7 L542.2 1097.3 L542.7 1097.8 L543.2 1098.4 L543.6 1099.0 L544.1 1099.5 L544.6 1100.0 L545.0 1100.5 L545.5 1101.0 L545.9 1101.5 L546.3 1101.9 L546.7 1102.3 L547.0 1102.7 L547.3 1103.0 L547.6 1103.3 L547.8 1103.6 L540.0 1210.0 L900.0 1215.0 L900.0 990.0 Z" fill="#a89432"/>
<path d="M790.5 1000.0 L789.0 1000.0 L787.3 1000.0 L785.3 999.9 L783.1 999.9 L780.7 999.8 L778.2 999.8 L775.5 999.7 L772.7 999.7 L769.7 999.6 L766.7 999.6 L763.7 999.5 L760.5 999.5 L757.4 999.5 L754.3 999.4 L751.2 999.4 L748.2 999.4 L745.2 999.4 L742.3 999.4 L739.5 999.4 L736.9 999.4 L734.4 999.5 L731.8 999.5 L729.3 999.6 L726.7 999.7 L724.2 999.7 L721.7 999.8 L719.1 999.9 L716.6 1000.0 L714.2 1000.1 L711.7 1000.2 L709.2 1000.3 L706.8 1000.4 L704.4 1000.5 L702.0 1000.6 L699.6 1000.8 L697.3 1000.9 L695.0 1001.1 L692.7 1001.2 L690.5 1001.4 L688.2 1001.6 L686.1 1001.8 L683.9 1002.0 L681.8 1002.1 L679.8 1002.3 L677.8 1002.5 L675.8 1002.8 L673.8 1003.0 L671.8 1003.2 L669.9 1003.4 L668.0 1003.7 L666.1 1003.9 L664.2 1004.2 L662.3 1004.4 L660.4 1004.7 L658.6 1005.0 L656.7 1005.3 L654.8 1005.6 L652.8 1006.0 L650.9 1006.3 L649.0 1006.7 L647.0 1007.1 L645.0 1007.5 L643.0 1007.9 L640.9 1008.3 L638.9 1008.8 L636.8 1009.3 L634.8 1009.7 L632.7 1010.2 L630.7 1010.7 L628.7 1011.2 L626.6 1011.7 L624.6 1012.3 L622.6 1012.8 L620.7 1013.3 L618.7 1013.9 L616.8 1014.4 L615.0 1014.9 L613.1 1015.5 L611.4 1016.0 L609.6 1016.6 L607.9 1017.1 L606.2 1017.7 L604.6 1018.2 L603.0 1018.8 L601.4 1019.4 L599.8 1020.0 L598.3 1020.5 L596.7 1021.1 L595.2 1021.7 L593.8 1022.3 L592.3 1022.9 L590.9 1023.5 L589.5 1024.1 L588.1 1024.7 L586.8 1025.3 L585.5 1026.0 L584.2 1026.6 L582.9 1027.2 L581.7 1027.8 L580.4 1028.5 L579.2 1029.1 L578.1 1029.8 L577.0 1030.4 L575.9 1031.1 L574.8 1031.7 L573.8 1032.4 L572.8 1033.1 L571.8 1033.8 L570.8 1034.4 L569.9 1035.1 L568.9 1035.8 L568.0 1036.5 L567.1 1037.2 L566.2 1037.9 L565.4 1038.6 L564.5 1039.3 L563.6 1040.0 L562.8 1040.7 L561.9 1041.4 L561.1 1042.1 L560.3 1042.8 L559.5 1043.5 L558.7 1044.2 L558.0 1044.9 L557.2 1045.5 L556.5 1046.2 L555.8 1046.9 L555.1 1047.6 L554.4 1048.3 L553.8 1049.0 L553.1 1049.6 L552.5 1050.3 L551.8 1051.0 L551.2 1051.7 L550.6 1052.4 L550.0 1053.1 L549.4 1053.7 L548.9 1054.4 L548.3 1055.1 L547.7 1055.8 L547.2 1056.5 L546.6 1057.1 L546.1 1057.8 L545.6 1058.5 L545.0 1059.2 L544.5 1059.9 L544.0 1060.6 L543.6 1061.3 L543.1 1061.9 L542.6 1062.6 L542.2 1063.3 L541.8 1063.9 L541.4 1064.6 L541.0 1065.2 L540.7 1065.9 L540.3 1066.5 L540.0 1067.1 L539.7 1067.7 L539.5 1068.3 L539.2 1068.9 L539.0 1069.5 L538.8 1070.0 L538.7 1070.6 L538.5 1071.1 L538.4 1071.6 L538.3 1072.1 L538.2 1072.6 L538.2 1073.1 L538.1 1073.6 L538.1 1074.1 L538.1 1074.6 L538.1 1075.1 L538.1 1075.6 L538.1 1076.1 L538.1 1076.7 L538.1 1077.2 L538.2 1077.8 L538.2 1078.4 L538.3 1079.0 L538.4 1079.6 L538.5 1080.2 L538.6 1080.8 L538.7 1081.5 L538.8 1082.1 L538.9 1082.8 L539.1 1083.5 L539.2 1084.2 L539.4 1084.9 L539.6 1085.5 L539.7 1086.2 L539.9 1086.9 L540.2 1087.6 L540.4 1088.3 L540.6 1089.0 L540.8 1089.6 L541.1 1090.2 L541.3 1090.9 L541.6 1091.5 L541.9 1092.0 L542.1 1092.6 L542.4 1093.1 L542.7 1093.6 L543.0 1094.1 L543.4 1094.7 L543.8 1095.2 L544.2 1095.7 L544.6 1096.3 L545.1 1096.8 L545.5 1097.3 L546.0 1097.9 L546.4 1098.4 L546.9 1098.9 L547.3 1099.3 L547.7 1099.8 L548.1 1100.2 L548.5 1100.6 L548.9 1101.0 L549.2 1101.4 L549.5 1101.7 L549.7 1102.0 L540.0 1210.0 L900.0 1215.0 L900.0 990.0 Z" fill="#d09030"/>
<path d="M790.5 1001.0 L789.0 1001.0 L787.2 1001.0 L785.3 1001.0 L783.1 1000.9 L780.7 1000.9 L778.2 1000.8 L775.5 1000.8 L772.6 1000.8 L769.7 1000.7 L766.7 1000.7 L763.6 1000.6 L760.5 1000.6 L757.4 1000.6 L754.3 1000.5 L751.2 1000.5 L748.2 1000.5 L745.2 1000.5 L742.3 1000.5 L739.6 1000.6 L736.9 1000.6 L734.4 1000.6 L731.8 1000.7 L729.3 1000.8 L726.7 1000.8 L724.2 1000.9 L721.7 1001.0 L719.2 1001.1 L716.7 1001.2 L714.2 1001.3 L711.7 1001.4 L709.3 1001.5 L706.9 1001.6 L704.4 1001.7 L702.1 1001.9 L699.7 1002.0 L697.4 1002.2 L695.1 1002.3 L692.8 1002.5 L690.6 1002.7 L688.3 1002.9 L686.2 1003.1 L684.0 1003.3 L682.0 1003.5 L679.9 1003.7 L677.9 1003.9 L675.9 1004.1 L673.9 1004.3 L672.0 1004.5 L670.1 1004.8 L668.2 1005.0 L666.3 1005.3 L664.4 1005.5 L662.5 1005.8 L660.6 1006.1 L658.8 1006.4 L656.9 1006.7 L655.0 1007.0 L653.1 1007.4 L651.2 1007.7 L649.2 1008.1 L647.3 1008.5 L645.3 1008.9 L643.3 1009.3 L641.2 1009.8 L639.2 1010.2 L637.2 1010.7 L635.1 1011.2 L633.1 1011.7 L631.1 1012.2 L629.0 1012.7 L627.0 1013.2 L625.0 1013.7 L623.0 1014.3 L621.1 1014.8 L619.2 1015.3 L617.3 1015.9 L615.4 1016.4 L613.6 1017.0 L611.8 1017.5 L610.1 1018.1 L608.4 1018.6 L606.7 1019.2 L605.1 1019.8 L603.5 1020.3 L601.9 1020.9 L600.4 1021.5 L598.8 1022.1 L597.3 1022.6 L595.8 1023.2 L594.4 1023.8 L593.0 1024.4 L591.6 1025.0 L590.2 1025.6 L588.8 1026.3 L587.5 1026.9 L586.2 1027.5 L584.9 1028.1 L583.7 1028.7 L582.4 1029.4 L581.2 1030.0 L580.1 1030.6 L579.0 1031.3 L577.9 1031.9 L576.8 1032.6 L575.8 1033.2 L574.8 1033.9 L573.8 1034.6 L572.8 1035.2 L571.8 1035.9 L570.9 1036.6 L570.0 1037.3 L569.1 1038.0 L568.2 1038.7 L567.4 1039.4 L566.5 1040.1 L565.6 1040.8 L564.8 1041.5 L564.0 1042.2 L563.1 1042.9 L562.3 1043.6 L561.5 1044.3 L560.7 1044.9 L560.0 1045.6 L559.3 1046.3 L558.5 1046.9 L557.8 1047.6 L557.1 1048.3 L556.5 1049.0 L555.8 1049.7 L555.2 1050.3 L554.5 1051.0 L553.9 1051.7 L553.3 1052.4 L552.7 1053.0 L552.1 1053.7 L551.5 1054.4 L551.0 1055.1 L550.4 1055.7 L549.8 1056.4 L549.3 1057.1 L548.7 1057.7 L548.2 1058.4 L547.7 1059.1 L547.2 1059.7 L546.6 1060.4 L546.1 1061.1 L545.7 1061.7 L545.2 1062.4 L544.7 1063.1 L544.3 1063.7 L543.9 1064.4 L543.5 1065.0 L543.1 1065.6 L542.7 1066.2 L542.4 1066.8 L542.1 1067.4 L541.8 1068.0 L541.5 1068.6 L541.3 1069.1 L541.1 1069.6 L540.9 1070.1 L540.7 1070.6 L540.6 1071.1 L540.5 1071.6 L540.4 1072.0 L540.3 1072.4 L540.2 1072.9 L540.2 1073.3 L540.1 1073.8 L540.1 1074.2 L540.1 1074.7 L540.1 1075.1 L540.1 1075.6 L540.1 1076.1 L540.1 1076.6 L540.1 1077.1 L540.2 1077.6 L540.2 1078.2 L540.3 1078.8 L540.4 1079.4 L540.4 1079.9 L540.5 1080.5 L540.6 1081.1 L540.7 1081.8 L540.9 1082.4 L541.0 1083.1 L541.2 1083.7 L541.3 1084.4 L541.5 1085.0 L541.7 1085.7 L541.9 1086.4 L542.1 1087.0 L542.3 1087.6 L542.5 1088.3 L542.7 1088.9 L543.0 1089.5 L543.2 1090.1 L543.4 1090.6 L543.7 1091.2 L543.9 1091.7 L544.1 1092.1 L544.4 1092.5 L544.7 1093.0 L545.0 1093.5 L545.4 1094.0 L545.8 1094.5 L546.2 1095.0 L546.6 1095.5 L547.0 1096.0 L547.5 1096.5 L547.9 1097.0 L548.3 1097.5 L548.8 1098.0 L549.2 1098.4 L549.6 1098.9 L550.0 1099.3 L550.3 1099.7 L550.7 1100.0 L551.0 1100.4 L551.3 1100.7 L540.0 1210.0 L900.0 1215.0 L900.0 990.0 Z" fill="#a80c0c"/>
<path d="M790.4 1004.5 L788.9 1004.5 L787.2 1004.5 L785.2 1004.5 L783.0 1004.5 L780.6 1004.4 L778.1 1004.4 L775.4 1004.4 L772.6 1004.3 L769.6 1004.3 L766.6 1004.3 L763.6 1004.2 L760.5 1004.2 L757.4 1004.2 L754.2 1004.2 L751.2 1004.2 L748.1 1004.2 L745.2 1004.2 L742.3 1004.2 L739.6 1004.3 L737.0 1004.3 L734.4 1004.4 L731.9 1004.4 L729.4 1004.5 L726.8 1004.6 L724.3 1004.7 L721.8 1004.8 L719.3 1004.9 L716.8 1005.0 L714.3 1005.1 L711.9 1005.2 L709.5 1005.3 L707.0 1005.5 L704.6 1005.6 L702.3 1005.8 L699.9 1005.9 L697.6 1006.1 L695.3 1006.2 L693.1 1006.4 L690.8 1006.6 L688.7 1006.8 L686.5 1007.0 L684.4 1007.2 L682.3 1007.4 L680.3 1007.6 L678.3 1007.8 L676.3 1008.1 L674.4 1008.3 L672.4 1008.5 L670.6 1008.8 L668.7 1009.0 L666.8 1009.3 L665.0 1009.6 L663.1 1009.9 L661.3 1010.1 L659.4 1010.5 L657.5 1010.8 L655.7 1011.1 L653.8 1011.5 L651.9 1011.8 L650.0 1012.2 L648.0 1012.6 L646.1 1013.0 L644.1 1013.4 L642.1 1013.9 L640.1 1014.3 L638.1 1014.8 L636.1 1015.3 L634.1 1015.8 L632.1 1016.3 L630.1 1016.8 L628.1 1017.3 L626.1 1017.9 L624.1 1018.4 L622.2 1019.0 L620.3 1019.5 L618.5 1020.1 L616.6 1020.6 L614.8 1021.2 L613.1 1021.7 L611.4 1022.3 L609.8 1022.8 L608.1 1023.4 L606.5 1023.9 L605.0 1024.5 L603.4 1025.1 L601.9 1025.6 L600.4 1026.2 L598.9 1026.8 L597.5 1027.4 L596.1 1028.0 L594.7 1028.6 L593.3 1029.2 L592.0 1029.8 L590.7 1030.4 L589.4 1031.0 L588.1 1031.6 L586.9 1032.2 L585.7 1032.8 L584.5 1033.5 L583.4 1034.1 L582.3 1034.7 L581.2 1035.3 L580.2 1035.9 L579.2 1036.5 L578.2 1037.2 L577.3 1037.8 L576.4 1038.4 L575.4 1039.1 L574.6 1039.7 L573.7 1040.4 L572.8 1041.1 L572.0 1041.7 L571.1 1042.4 L570.3 1043.1 L569.5 1043.8 L568.6 1044.5 L567.8 1045.2 L567.0 1045.9 L566.2 1046.6 L565.4 1047.3 L564.6 1047.9 L563.9 1048.6 L563.2 1049.2 L562.5 1049.9 L561.8 1050.5 L561.2 1051.2 L560.5 1051.8 L559.9 1052.5 L559.3 1053.1 L558.7 1053.8 L558.1 1054.4 L557.5 1055.1 L556.9 1055.7 L556.4 1056.4 L555.8 1057.0 L555.3 1057.7 L554.7 1058.3 L554.2 1059.0 L553.7 1059.6 L553.1 1060.2 L552.6 1060.9 L552.1 1061.5 L551.6 1062.1 L551.1 1062.8 L550.6 1063.4 L550.2 1064.0 L549.7 1064.7 L549.3 1065.3 L548.9 1065.9 L548.5 1066.5 L548.1 1067.0 L547.7 1067.6 L547.4 1068.2 L547.1 1068.7 L546.8 1069.2 L546.5 1069.7 L546.3 1070.2 L546.1 1070.6 L545.9 1071.0 L545.8 1071.4 L545.6 1071.8 L545.5 1072.1 L545.4 1072.5 L545.3 1072.8 L545.3 1073.1 L545.2 1073.3 L545.2 1073.6 L545.1 1073.9 L545.1 1074.2 L545.1 1074.5 L545.1 1074.8 L545.1 1075.1 L545.1 1075.5 L545.1 1075.9 L545.1 1076.3 L545.1 1076.7 L545.2 1077.2 L545.2 1077.7 L545.3 1078.2 L545.3 1078.8 L545.4 1079.3 L545.5 1079.8 L545.6 1080.3 L545.7 1080.8 L545.8 1081.4 L545.9 1082.0 L546.0 1082.6 L546.2 1083.1 L546.3 1083.7 L546.5 1084.3 L546.7 1084.9 L546.8 1085.5 L547.0 1086.1 L547.2 1086.6 L547.4 1087.1 L547.6 1087.7 L547.8 1088.2 L548.0 1088.6 L548.2 1089.0 L548.4 1089.4 L548.5 1089.7 L548.7 1089.9 L548.9 1090.3 L549.1 1090.6 L549.4 1091.0 L549.7 1091.4 L550.1 1091.9 L550.5 1092.3 L550.8 1092.8 L551.2 1093.2 L551.6 1093.7 L552.0 1094.1 L552.5 1094.6 L552.9 1095.0 L553.3 1095.5 L553.6 1095.9 L554.0 1096.3 L554.4 1096.7 L554.8 1097.2 L555.1 1097.5 L540.0 1210.0 L900.0 1215.0 L900.0 990.0 Z" fill="#d4a038"/>
<path d="M790.4 1007.0 L788.9 1007.0 L787.1 1007.0 L785.1 1007.0 L783.0 1007.0 L780.6 1007.0 L778.0 1006.9 L775.3 1006.9 L772.5 1006.9 L769.6 1006.8 L766.6 1006.8 L763.5 1006.8 L760.4 1006.8 L757.3 1006.8 L754.2 1006.7 L751.1 1006.7 L748.1 1006.7 L745.2 1006.8 L742.3 1006.8 L739.6 1006.8 L737.0 1006.9 L734.5 1006.9 L731.9 1007.0 L729.4 1007.1 L726.9 1007.2 L724.4 1007.3 L721.9 1007.4 L719.4 1007.5 L716.9 1007.6 L714.4 1007.7 L712.0 1007.8 L709.6 1007.9 L707.2 1008.1 L704.8 1008.2 L702.4 1008.4 L700.1 1008.5 L697.8 1008.7 L695.5 1008.9 L693.3 1009.0 L691.0 1009.2 L688.9 1009.4 L686.7 1009.6 L684.6 1009.8 L682.5 1010.1 L680.5 1010.3 L678.5 1010.5 L676.6 1010.7 L674.7 1010.9 L672.7 1011.2 L670.9 1011.4 L669.0 1011.7 L667.2 1012.0 L665.3 1012.2 L663.5 1012.5 L661.7 1012.8 L659.8 1013.1 L658.0 1013.4 L656.1 1013.8 L654.3 1014.1 L652.4 1014.5 L650.5 1014.9 L648.6 1015.3 L646.6 1015.7 L644.7 1016.1 L642.7 1016.6 L640.7 1017.0 L638.7 1017.5 L636.7 1018.0 L634.7 1018.5 L632.7 1019.0 L630.7 1019.5 L628.7 1020.0 L626.8 1020.6 L624.9 1021.1 L622.9 1021.6 L621.1 1022.2 L619.2 1022.7 L617.4 1023.3 L615.6 1023.8 L613.9 1024.4 L612.2 1024.9 L610.6 1025.5 L609.0 1026.0 L607.4 1026.6 L605.9 1027.2 L604.3 1027.7 L602.8 1028.3 L601.4 1028.9 L599.9 1029.4 L598.5 1030.0 L597.1 1030.6 L595.8 1031.2 L594.4 1031.8 L593.1 1032.4 L591.8 1033.0 L590.6 1033.6 L589.3 1034.2 L588.1 1034.8 L586.9 1035.4 L585.8 1036.0 L584.7 1036.6 L583.6 1037.2 L582.6 1037.8 L581.6 1038.4 L580.7 1039.0 L579.8 1039.6 L578.9 1040.2 L578.0 1040.8 L577.1 1041.5 L576.2 1042.1 L575.4 1042.7 L574.5 1043.4 L573.7 1044.1 L572.9 1044.7 L572.1 1045.4 L571.3 1046.1 L570.5 1046.7 L569.7 1047.4 L568.9 1048.1 L568.0 1048.8 L567.3 1049.5 L566.5 1050.2 L565.8 1050.8 L565.1 1051.4 L564.5 1052.1 L563.8 1052.7 L563.2 1053.3 L562.6 1054.0 L562.0 1054.6 L561.4 1055.2 L560.8 1055.9 L560.2 1056.5 L559.7 1057.1 L559.1 1057.7 L558.6 1058.4 L558.0 1059.0 L557.5 1059.6 L557.0 1060.3 L556.5 1060.9 L556.0 1061.5 L555.5 1062.1 L555.0 1062.7 L554.5 1063.4 L554.0 1064.0 L553.5 1064.6 L553.0 1065.2 L552.6 1065.8 L552.2 1066.4 L551.7 1067.0 L551.4 1067.6 L551.0 1068.1 L550.6 1068.7 L550.3 1069.2 L550.0 1069.7 L549.7 1070.2 L549.4 1070.7 L549.2 1071.1 L549.0 1071.5 L548.8 1071.9 L548.7 1072.2 L548.6 1072.5 L548.5 1072.8 L548.4 1073.0 L548.3 1073.3 L548.2 1073.5 L548.2 1073.7 L548.2 1073.9 L548.1 1074.1 L548.1 1074.2 L548.1 1074.4 L548.1 1074.7 L548.1 1074.9 L548.1 1075.1 L548.1 1075.4 L548.1 1075.7 L548.1 1076.1 L548.1 1076.5 L548.2 1076.9 L548.2 1077.4 L548.3 1077.9 L548.3 1078.4 L548.4 1078.9 L548.4 1079.3 L548.5 1079.8 L548.6 1080.3 L548.7 1080.8 L548.8 1081.3 L548.9 1081.9 L549.1 1082.4 L549.2 1083.0 L549.4 1083.5 L549.5 1084.0 L549.7 1084.6 L549.9 1085.1 L550.0 1085.6 L550.2 1086.1 L550.4 1086.6 L550.6 1087.0 L550.7 1087.4 L550.9 1087.8 L551.0 1088.0 L551.1 1088.2 L551.2 1088.4 L551.4 1088.6 L551.6 1088.9 L551.8 1089.2 L552.1 1089.6 L552.4 1090.0 L552.8 1090.4 L553.1 1090.8 L553.5 1091.3 L553.9 1091.7 L554.3 1092.1 L554.7 1092.6 L555.1 1093.0 L555.5 1093.4 L555.8 1093.8 L556.2 1094.3 L556.7 1094.7 L557.1 1095.2 L557.4 1095.6 L540.0 1210.0 L900.0 1215.0 L900.0 990.0 Z" fill="#b4b63a"/>
<path d="M790.3 1009.5 L788.8 1009.5 L787.1 1009.5 L785.1 1009.5 L782.9 1009.5 L780.5 1009.5 L778.0 1009.5 L775.3 1009.5 L772.5 1009.4 L769.5 1009.4 L766.5 1009.4 L763.5 1009.4 L760.4 1009.4 L757.3 1009.3 L754.2 1009.3 L751.1 1009.3 L748.1 1009.4 L745.2 1009.4 L742.3 1009.4 L739.6 1009.5 L737.0 1009.5 L734.5 1009.6 L732.0 1009.7 L729.5 1009.8 L727.0 1009.8 L724.4 1009.9 L721.9 1010.0 L719.5 1010.2 L717.0 1010.3 L714.5 1010.4 L712.1 1010.5 L709.7 1010.7 L707.3 1010.8 L704.9 1011.0 L702.6 1011.1 L700.2 1011.3 L697.9 1011.5 L695.7 1011.6 L693.4 1011.8 L691.2 1012.0 L689.1 1012.2 L686.9 1012.4 L684.8 1012.6 L682.8 1012.9 L680.8 1013.1 L678.8 1013.3 L676.9 1013.5 L675.0 1013.8 L673.1 1014.0 L671.2 1014.3 L669.4 1014.5 L667.5 1014.8 L665.7 1015.1 L663.9 1015.4 L662.1 1015.7 L660.3 1016.0 L658.4 1016.3 L656.6 1016.7 L654.8 1017.0 L652.9 1017.4 L651.0 1017.8 L649.1 1018.2 L647.2 1018.6 L645.3 1019.0 L643.3 1019.5 L641.3 1019.9 L639.4 1020.4 L637.4 1020.9 L635.4 1021.4 L633.4 1021.9 L631.4 1022.4 L629.5 1022.9 L627.5 1023.5 L625.6 1024.0 L623.7 1024.6 L621.9 1025.1 L620.0 1025.7 L618.3 1026.2 L616.5 1026.8 L614.8 1027.3 L613.2 1027.9 L611.6 1028.4 L610.0 1029.0 L608.4 1029.5 L606.9 1030.1 L605.4 1030.7 L603.9 1031.2 L602.5 1031.8 L601.1 1032.4 L599.7 1033.0 L598.3 1033.5 L597.0 1034.1 L595.7 1034.7 L594.4 1035.3 L593.1 1035.9 L591.9 1036.5 L590.7 1037.1 L589.5 1037.7 L588.4 1038.3 L587.2 1038.9 L586.2 1039.5 L585.2 1040.0 L584.2 1040.6 L583.3 1041.2 L582.4 1041.8 L581.5 1042.4 L580.6 1043.0 L579.8 1043.6 L579.0 1044.2 L578.1 1044.8 L577.3 1045.4 L576.5 1046.1 L575.7 1046.7 L574.9 1047.3 L574.1 1048.0 L573.4 1048.7 L572.6 1049.4 L571.8 1050.0 L571.0 1050.7 L570.2 1051.4 L569.4 1052.1 L568.7 1052.8 L568.0 1053.4 L567.4 1054.0 L566.8 1054.6 L566.1 1055.2 L565.5 1055.8 L564.9 1056.4 L564.4 1057.0 L563.8 1057.7 L563.2 1058.3 L562.7 1058.9 L562.2 1059.5 L561.7 1060.1 L561.1 1060.7 L560.6 1061.3 L560.1 1061.9 L559.7 1062.5 L559.2 1063.2 L558.7 1063.7 L558.2 1064.3 L557.7 1064.9 L557.2 1065.5 L556.7 1066.1 L556.3 1066.7 L555.8 1067.3 L555.4 1067.9 L555.0 1068.4 L554.6 1069.0 L554.2 1069.5 L553.9 1070.0 L553.6 1070.6 L553.3 1071.0 L553.0 1071.5 L552.7 1071.9 L552.5 1072.3 L552.3 1072.7 L552.2 1073.0 L552.0 1073.3 L551.9 1073.6 L551.8 1073.8 L551.8 1073.9 L551.7 1074.1 L551.7 1074.2 L551.6 1074.3 L551.6 1074.4 L551.6 1074.5 L551.6 1074.6 L551.6 1074.6 L551.6 1074.7 L551.6 1074.8 L551.6 1075.0 L551.6 1075.1 L551.6 1075.4 L551.6 1075.6 L551.6 1075.9 L551.6 1076.2 L551.6 1076.6 L551.7 1077.0 L551.7 1077.5 L551.8 1078.0 L551.8 1078.4 L551.9 1078.8 L552.0 1079.2 L552.0 1079.6 L552.1 1080.1 L552.2 1080.6 L552.3 1081.1 L552.5 1081.5 L552.6 1082.0 L552.7 1082.5 L552.9 1083.0 L553.0 1083.5 L553.2 1084.0 L553.3 1084.4 L553.5 1084.9 L553.6 1085.3 L553.8 1085.6 L553.9 1086.0 L554.1 1086.3 L554.2 1086.4 L554.2 1086.5 L554.2 1086.5 L554.3 1086.7 L554.4 1086.9 L554.6 1087.2 L554.9 1087.5 L555.1 1087.8 L555.4 1088.2 L555.8 1088.5 L556.1 1088.9 L556.5 1089.4 L556.9 1089.8 L557.2 1090.2 L557.6 1090.6 L558.0 1091.0 L558.4 1091.5 L558.8 1091.9 L559.3 1092.4 L559.8 1092.9 L560.1 1093.4 L540.0 1210.0 L900.0 1215.0 L900.0 990.0 Z" fill="#88b030"/>
<path d="M790.3 1013.5 L788.8 1013.5 L787.0 1013.5 L785.0 1013.5 L782.8 1013.5 L780.4 1013.5 L777.9 1013.5 L775.2 1013.5 L772.4 1013.5 L769.5 1013.5 L766.5 1013.5 L763.4 1013.4 L760.3 1013.4 L757.2 1013.4 L754.1 1013.4 L751.1 1013.5 L748.1 1013.5 L745.2 1013.5 L742.3 1013.5 L739.6 1013.6 L737.1 1013.7 L734.6 1013.8 L732.1 1013.8 L729.6 1013.9 L727.0 1014.0 L724.6 1014.1 L722.1 1014.2 L719.6 1014.4 L717.1 1014.5 L714.7 1014.6 L712.3 1014.7 L709.9 1014.9 L707.5 1015.0 L705.1 1015.2 L702.8 1015.4 L700.5 1015.5 L698.2 1015.7 L696.0 1015.9 L693.7 1016.1 L691.6 1016.3 L689.4 1016.5 L687.3 1016.7 L685.2 1016.9 L683.2 1017.2 L681.2 1017.4 L679.2 1017.6 L677.3 1017.8 L675.4 1018.1 L673.6 1018.3 L671.7 1018.6 L669.9 1018.9 L668.1 1019.1 L666.3 1019.4 L664.5 1019.7 L662.7 1020.0 L660.9 1020.3 L659.1 1020.7 L657.3 1021.0 L655.5 1021.4 L653.7 1021.7 L651.8 1022.1 L650.0 1022.5 L648.1 1022.9 L646.2 1023.4 L644.2 1023.8 L642.3 1024.3 L640.3 1024.8 L638.4 1025.3 L636.4 1025.8 L634.5 1026.3 L632.5 1026.8 L630.6 1027.3 L628.7 1027.9 L626.8 1028.4 L624.9 1028.9 L623.1 1029.5 L621.3 1030.0 L619.5 1030.6 L617.8 1031.1 L616.1 1031.7 L614.5 1032.2 L613.0 1032.8 L611.4 1033.3 L609.9 1033.9 L608.4 1034.4 L606.9 1035.0 L605.5 1035.6 L604.1 1036.1 L602.7 1036.7 L601.4 1037.3 L600.0 1037.9 L598.7 1038.4 L597.5 1039.0 L596.2 1039.6 L595.0 1040.2 L593.8 1040.8 L592.7 1041.3 L591.6 1041.9 L590.5 1042.5 L589.4 1043.1 L588.4 1043.7 L587.4 1044.2 L586.5 1044.7 L585.7 1045.3 L584.9 1045.8 L584.0 1046.4 L583.2 1047.0 L582.4 1047.5 L581.7 1048.1 L580.9 1048.7 L580.1 1049.3 L579.4 1049.9 L578.6 1050.5 L577.9 1051.2 L577.1 1051.8 L576.4 1052.5 L575.6 1053.1 L574.8 1053.8 L574.1 1054.5 L573.3 1055.2 L572.5 1055.9 L571.8 1056.5 L571.2 1057.1 L570.6 1057.7 L570.0 1058.2 L569.5 1058.8 L568.9 1059.4 L568.3 1060.0 L567.8 1060.6 L567.3 1061.1 L566.8 1061.7 L566.3 1062.3 L565.8 1062.9 L565.3 1063.5 L564.8 1064.1 L564.4 1064.6 L563.9 1065.2 L563.4 1065.8 L563.0 1066.4 L562.5 1066.9 L562.0 1067.5 L561.6 1068.1 L561.1 1068.7 L560.7 1069.2 L560.3 1069.8 L559.8 1070.3 L559.4 1070.8 L559.1 1071.4 L558.7 1071.9 L558.4 1072.3 L558.1 1072.8 L557.8 1073.2 L557.5 1073.7 L557.3 1074.0 L557.1 1074.4 L556.9 1074.7 L556.8 1075.0 L556.6 1075.2 L556.6 1075.4 L556.5 1075.5 L556.5 1075.6 L556.5 1075.6 L556.5 1075.6 L556.5 1075.6 L556.5 1075.5 L556.5 1075.5 L556.5 1075.4 L556.5 1075.3 L556.6 1075.2 L556.6 1075.2 L556.6 1075.1 L556.6 1075.1 L556.6 1075.2 L556.6 1075.3 L556.6 1075.4 L556.6 1075.6 L556.6 1075.8 L556.6 1076.2 L556.7 1076.5 L556.7 1077.0 L556.7 1077.4 L556.8 1077.7 L556.8 1078.0 L556.9 1078.3 L557.0 1078.7 L557.0 1079.1 L557.1 1079.5 L557.2 1079.9 L557.3 1080.3 L557.4 1080.7 L557.5 1081.2 L557.7 1081.6 L557.8 1082.0 L557.9 1082.4 L558.0 1082.8 L558.2 1083.1 L558.3 1083.4 L558.4 1083.7 L558.5 1083.9 L558.6 1084.1 L558.6 1084.2 L558.5 1084.0 L558.5 1083.9 L558.5 1083.9 L558.5 1084.0 L558.7 1084.2 L558.8 1084.4 L559.0 1084.7 L559.3 1085.0 L559.6 1085.3 L559.9 1085.6 L560.2 1086.0 L560.5 1086.4 L560.9 1086.8 L561.3 1087.2 L561.7 1087.6 L562.1 1088.1 L562.5 1088.5 L563.0 1089.1 L563.6 1089.7 L564.0 1090.2 L540.0 1210.0 L900.0 1215.0 L900.0 990.0 Z" fill="#58a02a"/>
<path d="M790.2 1019.5 L788.7 1019.5 L786.9 1019.5 L784.9 1019.6 L782.7 1019.6 L780.3 1019.6 L777.8 1019.6 L775.1 1019.6 L772.3 1019.5 L769.3 1019.5 L766.4 1019.5 L763.3 1019.5 L760.2 1019.5 L757.1 1019.5 L754.1 1019.5 L751.0 1019.6 L748.0 1019.6 L745.1 1019.6 L742.3 1019.7 L739.7 1019.7 L737.2 1019.8 L734.7 1019.9 L732.2 1020.0 L729.7 1020.1 L727.2 1020.2 L724.7 1020.3 L722.2 1020.4 L719.8 1020.5 L717.3 1020.7 L714.9 1020.8 L712.5 1021.0 L710.1 1021.1 L707.8 1021.3 L705.4 1021.4 L703.1 1021.6 L700.8 1021.8 L698.6 1022.0 L696.4 1022.1 L694.2 1022.3 L692.0 1022.6 L689.9 1022.8 L687.8 1023.0 L685.8 1023.2 L683.7 1023.4 L681.8 1023.7 L679.9 1023.9 L678.0 1024.1 L676.1 1024.4 L674.3 1024.6 L672.5 1024.9 L670.7 1025.2 L668.9 1025.5 L667.2 1025.7 L665.4 1026.0 L663.7 1026.3 L661.9 1026.7 L660.2 1027.0 L658.4 1027.3 L656.6 1027.7 L654.8 1028.1 L653.0 1028.4 L651.2 1028.8 L649.4 1029.3 L647.5 1029.7 L645.6 1030.1 L643.7 1030.6 L641.8 1031.1 L639.8 1031.6 L637.9 1032.1 L636.0 1032.6 L634.1 1033.1 L632.2 1033.6 L630.3 1034.2 L628.5 1034.7 L626.6 1035.3 L624.8 1035.8 L623.1 1036.3 L621.4 1036.9 L619.7 1037.4 L618.1 1038.0 L616.5 1038.5 L615.0 1039.1 L613.5 1039.6 L612.0 1040.1 L610.6 1040.7 L609.2 1041.2 L607.8 1041.8 L606.4 1042.4 L605.1 1042.9 L603.8 1043.5 L602.5 1044.0 L601.3 1044.6 L600.1 1045.1 L598.9 1045.7 L597.7 1046.3 L596.6 1046.8 L595.5 1047.4 L594.5 1048.0 L593.4 1048.5 L592.4 1049.1 L591.5 1049.6 L590.6 1050.1 L589.9 1050.6 L589.1 1051.1 L588.4 1051.6 L587.6 1052.1 L586.9 1052.6 L586.2 1053.2 L585.5 1053.7 L584.8 1054.2 L584.1 1054.8 L583.4 1055.4 L582.7 1056.0 L582.0 1056.6 L581.3 1057.2 L580.6 1057.8 L579.9 1058.5 L579.2 1059.1 L578.4 1059.8 L577.6 1060.5 L576.9 1061.2 L576.3 1061.8 L575.7 1062.3 L575.2 1062.8 L574.6 1063.4 L574.1 1063.9 L573.6 1064.5 L573.1 1065.0 L572.7 1065.5 L572.2 1066.1 L571.7 1066.6 L571.3 1067.1 L570.8 1067.7 L570.4 1068.2 L570.0 1068.7 L569.6 1069.3 L569.2 1069.8 L568.7 1070.4 L568.3 1070.9 L567.9 1071.4 L567.5 1072.0 L567.0 1072.5 L566.6 1073.0 L566.2 1073.5 L565.8 1074.0 L565.4 1074.5 L565.1 1075.0 L564.8 1075.4 L564.4 1075.9 L564.2 1076.3 L563.9 1076.7 L563.7 1077.0 L563.5 1077.3 L563.3 1077.6 L563.2 1077.9 L563.1 1078.1 L563.0 1078.2 L562.9 1078.3 L562.9 1078.3 L563.0 1078.2 L563.0 1078.1 L563.1 1077.9 L563.1 1077.7 L563.2 1077.5 L563.3 1077.2 L563.4 1076.9 L563.4 1076.6 L563.5 1076.3 L563.5 1076.0 L563.5 1075.8 L563.5 1075.5 L563.6 1075.3 L563.6 1075.2 L563.6 1075.1 L563.6 1075.1 L563.6 1075.2 L563.6 1075.3 L563.6 1075.5 L563.6 1075.8 L563.7 1076.2 L563.7 1076.6 L563.7 1076.8 L563.8 1076.9 L563.8 1077.2 L563.8 1077.4 L563.9 1077.7 L563.9 1078.0 L564.0 1078.3 L564.1 1078.6 L564.2 1078.9 L564.3 1079.3 L564.4 1079.6 L564.5 1079.9 L564.6 1080.2 L564.6 1080.4 L564.7 1080.6 L564.8 1080.8 L564.9 1081.0 L564.9 1081.1 L564.9 1081.2 L564.9 1081.0 L564.6 1080.6 L564.4 1080.3 L564.3 1080.1 L564.3 1080.0 L564.3 1080.0 L564.4 1080.1 L564.5 1080.3 L564.7 1080.5 L564.9 1080.7 L565.1 1081.0 L565.4 1081.3 L565.7 1081.7 L566.1 1082.1 L566.4 1082.4 L566.8 1082.9 L567.2 1083.3 L567.7 1083.8 L568.2 1084.4 L568.9 1085.2 L569.4 1085.7 L540.0 1210.0 L900.0 1215.0 L900.0 990.0 Z" fill="url(#gDBs)"/>
<path d="M867.4 1180.3 C866.9 1179.7 866.6 1180.0 864.6 1176.5 C862.6 1173.0 858.6 1165.8 855.2 1159.6 C851.8 1153.3 847.8 1146.2 844.0 1139.0 C840.2 1131.8 836.5 1124.2 832.7 1116.4 C828.9 1108.6 824.9 1100.1 821.4 1092.0 C817.9 1083.9 815.1 1076.0 812.0 1067.6 C808.9 1059.1 805.5 1049.8 802.7 1041.3 C799.9 1032.8 797.1 1024.0 795.1 1016.9 C793.1 1009.8 791.3 1001.6 790.5 998.5" fill="none" stroke="#6aa890" stroke-width="2" stroke-linejoin="round"/>

</g>
<path d="M790.5 998.5 C781.6 998.4 754.0 997.6 736.9 997.8 C719.8 998.0 702.8 998.6 688.1 999.8 C673.4 1001.0 661.8 1002.3 648.6 1004.8 C635.4 1007.3 620.5 1011.0 609.0 1014.6 C597.5 1018.2 587.6 1022.2 579.4 1026.5 C571.2 1030.8 565.2 1035.7 559.6 1040.3 C554.0 1044.9 549.6 1049.6 545.8 1054.2 C542.0 1058.8 538.5 1063.7 536.9 1068.0 C535.2 1072.3 535.4 1075.6 535.9 1079.9 C536.4 1084.2 537.9 1089.8 539.9 1093.7 C541.9 1097.7 546.5 1101.9 547.8 1103.6 C555.7 1107.5 579.6 1120.1 595.0 1127.0 C610.4 1133.9 624.2 1139.2 640.0 1145.0 C655.8 1150.8 672.3 1156.6 690.0 1161.5 C707.7 1166.4 727.5 1170.8 746.3 1174.6 C765.1 1178.3 786.6 1181.7 802.7 1184.0 C818.8 1186.3 836.3 1187.9 843.0 1188.7 C843.5 1188.1 844.1 1185.9 845.8 1185.0 C847.5 1184.1 849.7 1183.3 853.3 1183.1 C856.9 1182.9 865.0 1183.8 867.4 1184.0 L867.4 1180.3 C866.9 1179.7 866.6 1180.0 864.6 1176.5 C862.6 1173.0 858.6 1165.8 855.2 1159.6 C851.8 1153.3 847.8 1146.2 844.0 1139.0 C840.2 1131.8 836.5 1124.2 832.7 1116.4 C828.9 1108.6 824.9 1100.1 821.4 1092.0 C817.9 1083.9 815.1 1076.0 812.0 1067.6 C808.9 1059.1 805.5 1049.8 802.7 1041.3 C799.9 1032.8 797.1 1024.0 795.1 1016.9 C793.1 1009.8 791.3 1001.6 790.5 998.5 Z" fill="none" stroke="#2a4a3a" stroke-width="0.9"/>
<rect x="131.0" y="217.4" width="720.0" height="18.2" fill="#c4c4c4"/>
<rect x="131.0" y="233.6" width="720.0" height="2" fill="#8c8c8c"/>
<rect x="134.00" y="220.4" width="77.30" height="12.7" fill="#1b3f8f"/>
<rect x="211.00" y="220.4" width="80.30" height="12.7" fill="#6a9ad6"/>
<rect x="291.00" y="220.4" width="80.30" height="12.7" fill="#8ac2d8"/>
<rect x="371.00" y="220.4" width="80.30" height="12.7" fill="#88c0a0"/>
<rect x="451.00" y="220.4" width="80.30" height="12.7" fill="#78b428"/>
<rect x="531.00" y="220.4" width="80.30" height="12.7" fill="#a6c844"/>
<rect x="611.00" y="220.4" width="80.30" height="12.7" fill="#dde262"/>
<rect x="691.00" y="220.4" width="80.30" height="12.7" fill="#eaa63c"/>
<rect x="771.00" y="220.4" width="77.00" height="12.7" fill="#c81418"/>
<rect x="131.0" y="235.6" width="1" height="5" fill="#b0b0b0"/>
<rect x="211.0" y="235.6" width="1" height="5" fill="#b0b0b0"/>
<rect x="291.0" y="235.6" width="1" height="5" fill="#b0b0b0"/>
<rect x="371.0" y="235.6" width="1" height="5" fill="#b0b0b0"/>
<rect x="451.0" y="235.6" width="1" height="5" fill="#b0b0b0"/>
<rect x="531.0" y="235.6" width="1" height="5" fill="#b0b0b0"/>
<rect x="611.0" y="235.6" width="1" height="5" fill="#b0b0b0"/>
<rect x="691.0" y="235.6" width="1" height="5" fill="#b0b0b0"/>
<rect x="771.0" y="235.6" width="1" height="5" fill="#b0b0b0"/>
<rect x="851.0" y="235.6" width="1" height="5" fill="#b0b0b0"/>
<rect x="122.3" y="515.9" width="735.2" height="17.3" fill="#c4c4c4"/>
<rect x="122.3" y="531.2" width="735.2" height="2" fill="#8c8c8c"/>
<rect x="125.30" y="518.9" width="78.99" height="11.8" fill="#1b3f8f"/>
<rect x="203.99" y="518.9" width="81.99" height="11.8" fill="#6a9ad6"/>
<rect x="285.68" y="518.9" width="81.99" height="11.8" fill="#8ac2d8"/>
<rect x="367.37" y="518.9" width="81.99" height="11.8" fill="#88c0a0"/>
<rect x="449.06" y="518.9" width="81.99" height="11.8" fill="#78b428"/>
<rect x="530.74" y="518.9" width="81.99" height="11.8" fill="#a6c844"/>
<rect x="612.43" y="518.9" width="81.99" height="11.8" fill="#dde262"/>
<rect x="694.12" y="518.9" width="81.99" height="11.8" fill="#eaa63c"/>
<rect x="775.81" y="518.9" width="78.69" height="11.8" fill="#c81418"/>
<rect x="122.3" y="533.2" width="1" height="5" fill="#b0b0b0"/>
<rect x="204.0" y="533.2" width="1" height="5" fill="#b0b0b0"/>
<rect x="285.7" y="533.2" width="1" height="5" fill="#b0b0b0"/>
<rect x="367.4" y="533.2" width="1" height="5" fill="#b0b0b0"/>
<rect x="449.1" y="533.2" width="1" height="5" fill="#b0b0b0"/>
<rect x="530.7" y="533.2" width="1" height="5" fill="#b0b0b0"/>
<rect x="612.4" y="533.2" width="1" height="5" fill="#b0b0b0"/>
<rect x="694.1" y="533.2" width="1" height="5" fill="#b0b0b0"/>
<rect x="775.8" y="533.2" width="1" height="5" fill="#b0b0b0"/>
<rect x="857.5" y="533.2" width="1" height="5" fill="#b0b0b0"/>
<rect x="118.8" y="852.4" width="759.4" height="20.8" fill="#c4c4c4"/>
<rect x="118.8" y="871.2" width="759.4" height="2" fill="#8c8c8c"/>
<rect x="121.80" y="855.4" width="81.68" height="15.3" fill="#1b3f8f"/>
<rect x="203.18" y="855.4" width="84.68" height="15.3" fill="#6a9ad6"/>
<rect x="287.56" y="855.4" width="84.68" height="15.3" fill="#8ac2d8"/>
<rect x="371.93" y="855.4" width="84.68" height="15.3" fill="#88c0a0"/>
<rect x="456.31" y="855.4" width="84.68" height="15.3" fill="#78b428"/>
<rect x="540.69" y="855.4" width="84.68" height="15.3" fill="#a6c844"/>
<rect x="625.07" y="855.4" width="84.68" height="15.3" fill="#dde262"/>
<rect x="709.44" y="855.4" width="84.68" height="15.3" fill="#eaa63c"/>
<rect x="793.82" y="855.4" width="81.38" height="15.3" fill="#c81418"/>
<rect x="118.8" y="873.2" width="1" height="5" fill="#b0b0b0"/>
<rect x="203.2" y="873.2" width="1" height="5" fill="#b0b0b0"/>
<rect x="287.6" y="873.2" width="1" height="5" fill="#b0b0b0"/>
<rect x="371.9" y="873.2" width="1" height="5" fill="#b0b0b0"/>
<rect x="456.3" y="873.2" width="1" height="5" fill="#b0b0b0"/>
<rect x="540.7" y="873.2" width="1" height="5" fill="#b0b0b0"/>
<rect x="625.1" y="873.2" width="1" height="5" fill="#b0b0b0"/>
<rect x="709.4" y="873.2" width="1" height="5" fill="#b0b0b0"/>
<rect x="793.8" y="873.2" width="1" height="5" fill="#b0b0b0"/>
<rect x="878.2" y="873.2" width="1" height="5" fill="#b0b0b0"/>
<rect x="133.6" y="1215.8" width="745.8" height="16.2" fill="#c4c4c4"/>
<rect x="133.6" y="1230.0" width="745.8" height="2" fill="#8c8c8c"/>
<rect x="136.60" y="1218.8" width="80.17" height="10.7" fill="#1b3f8f"/>
<rect x="216.47" y="1218.8" width="83.17" height="10.7" fill="#6a9ad6"/>
<rect x="299.33" y="1218.8" width="83.17" height="10.7" fill="#8ac2d8"/>
<rect x="382.20" y="1218.8" width="83.17" height="10.7" fill="#88c0a0"/>
<rect x="465.07" y="1218.8" width="83.17" height="10.7" fill="#78b428"/>
<rect x="547.93" y="1218.8" width="83.17" height="10.7" fill="#a6c844"/>
<rect x="630.80" y="1218.8" width="83.17" height="10.7" fill="#dde262"/>
<rect x="713.67" y="1218.8" width="83.17" height="10.7" fill="#eaa63c"/>
<rect x="796.53" y="1218.8" width="79.87" height="10.7" fill="#c81418"/>
<rect x="133.6" y="1232.0" width="1" height="5" fill="#b0b0b0"/>
<rect x="216.5" y="1232.0" width="1" height="5" fill="#b0b0b0"/>
<rect x="299.3" y="1232.0" width="1" height="5" fill="#b0b0b0"/>
<rect x="382.2" y="1232.0" width="1" height="5" fill="#b0b0b0"/>
<rect x="465.1" y="1232.0" width="1" height="5" fill="#b0b0b0"/>
<rect x="547.9" y="1232.0" width="1" height="5" fill="#b0b0b0"/>
<rect x="630.8" y="1232.0" width="1" height="5" fill="#b0b0b0"/>
<rect x="713.7" y="1232.0" width="1" height="5" fill="#b0b0b0"/>
<rect x="796.5" y="1232.0" width="1" height="5" fill="#b0b0b0"/>
<rect x="879.4" y="1232.0" width="1" height="5" fill="#b0b0b0"/>
<path d="M940.4 113.6 L971.4 114.0 L971.7 119.0 L940.4 114.4 Z" fill="#000"/>
<path d="M962.4 100.5 L971.7 112.8 L966.9 114.2 Z" fill="#8aa416"/>
<path d="M971.6 114.0 L966.8 145.0" stroke="#5a92d4" stroke-width="1.4"/>
<path d="M971.6 113.0 L970.6 122.0" stroke="#2a5a9a" stroke-width="1.8"/>
<path d="M947.5 392.1 L978.5 392.5 L978.8 397.5 L947.5 392.9 Z" fill="#000"/>
<path d="M969.5 379.0 L978.8 391.3 L974.0 392.7 Z" fill="#8aa416"/>
<path d="M978.7 392.5 L973.9 423.5" stroke="#5a92d4" stroke-width="1.4"/>
<path d="M978.7 391.5 L977.7 400.5" stroke="#2a5a9a" stroke-width="1.8"/>
<path d="M947.5 725.8 L978.5 726.2 L978.8 731.2 L947.5 726.6 Z" fill="#000"/>
<path d="M969.5 712.7 L978.8 725.0 L974.0 726.4 Z" fill="#8aa416"/>
<path d="M978.7 726.2 L973.9 757.2" stroke="#5a92d4" stroke-width="1.4"/>
<path d="M978.7 725.2 L977.7 734.2" stroke="#2a5a9a" stroke-width="1.8"/>
<path d="M943.0 1081.9 L974.0 1082.3 L974.3 1087.3 L943.0 1082.7 Z" fill="#000"/>
<path d="M965.0 1068.8 L974.3 1081.1 L969.5 1082.5 Z" fill="#8aa416"/>
<path d="M974.2 1082.3 L969.4 1113.3" stroke="#5a92d4" stroke-width="1.4"/>
<path d="M974.2 1081.3 L973.2 1090.3" stroke="#2a5a9a" stroke-width="1.8"/>
<text x="366.0" y="36.0" font-size="20.8">Front view</text>
<text x="362.5" y="68.7" font-size="20.8">MX</text>
<text x="102.5" y="200.6" font-size="20.8">MN</text>
<text x="589.5" y="34.2" font-size="20.8">Back view</text>
<text x="582.5" y="78.7" font-size="20.8">MX</text>
<text x="841.5" y="188.0" font-size="20.8">MN</text>
<text x="369.5" y="369.4" font-size="20.8">Front view</text>
<text x="459.8" y="399.7" font-size="20.8">MX</text>
<text x="122.5" y="501.0" font-size="20.8">MN</text>
<text x="570.3" y="366.7" font-size="20.8">Back view</text>
<text x="625.4" y="400.5" font-size="20.8">MX</text>
<text x="883.3" y="505.4" font-size="20.8">MN</text>
<text x="350.6" y="661.0" font-size="20.8">Front view</text>
<text x="469.0" y="747.5" font-size="20.8">MX</text>
<text x="112.0" y="827.0" font-size="20.8">MN</text>
<text x="578.2" y="651.3" font-size="20.8">Back view</text>
<text x="574.2" y="727.1" font-size="20.8">MX</text>
<text x="896.3" y="808.0" font-size="20.8">MN</text>
<text x="303.8" y="1002.3" font-size="20.8">Front view</text>
<text x="430.2" y="1038.8" font-size="20.8">MN</text>
<text x="497.1" y="1151.0" font-size="20.8">MX</text>
<text x="586.4" y="996.9" font-size="20.8">Back view</text>
<text x="607.8" y="1033.3" font-size="20.8">MN</text>
<text x="556.0" y="1090.8" font-size="20.8">MX</text>
<text x="32.8" y="237.0" font-size="21.3">电磁力/N</text>
<text x="133.5" y="258.0" font-size="21.0">0.010 648</text>
<text x="298.3" y="258.0" font-size="21.0">1.151 09</text>
<text x="465.4" y="258.0" font-size="21.0">2.291 53</text>
<text x="620.6" y="258.0" font-size="21.0">3.431 98</text>
<text x="782.8" y="258.0" font-size="21.0">4.572 42</text>
<text x="207.3" y="279.3" font-size="21.0">0.580 869</text>
<text x="382.4" y="279.3" font-size="21.0">1.721 31</text>
<text x="541.8" y="279.3" font-size="21.0">2.861 75</text>
<text x="705.6" y="279.3" font-size="21.0">4.002 2</text>
<text x="834.1" y="279.3" font-size="21.0">5.142 64</text>
<text x="466.6" y="318.4" font-size="21.5">a</text>
<text x="486.6" y="318.4" font-size="21.5">206 μs</text>
<text x="25.1" y="532.8" font-size="21.3">电磁力/N</text>
<text x="126.8" y="554.4" font-size="21.0">0.011 988</text>
<text x="290.3" y="554.4" font-size="21.0">1.415 66</text>
<text x="454.4" y="554.4" font-size="21.0">2.819 34</text>
<text x="618.5" y="554.4" font-size="21.0">4.223 02</text>
<text x="785.4" y="554.4" font-size="21.0">5.626 69</text>
<text x="200.9" y="575.6" font-size="21.0">0.713 826</text>
<text x="375.3" y="575.6" font-size="21.0">2.117 5</text>
<text x="540.9" y="575.6" font-size="21.0">3.521 18</text>
<text x="700.0" y="575.6" font-size="21.0">4.924 85</text>
<text x="829.9" y="575.6" font-size="21.0">6.328 53</text>
<text x="463.6" y="609.3" font-size="21.5">b</text>
<text x="484.7" y="609.3" font-size="21.5">258 μs</text>
<text x="24.2" y="873.4" font-size="21.3">电磁力/N</text>
<text x="125.8" y="896.9" font-size="21.0">0.002 06</text>
<text x="292.3" y="896.9" font-size="21.0">0.651 244</text>
<text x="466.8" y="893.4" font-size="21.0">1.300 43</text>
<text x="636.2" y="893.4" font-size="21.0">1.949 61</text>
<text x="810.2" y="895.9" font-size="21.0">2.598 8</text>
<text x="206.4" y="914.2" font-size="21.0">0.326 652</text>
<text x="376.8" y="914.2" font-size="21.0">0.975 836</text>
<text x="554.2" y="914.2" font-size="21.0">1.625 02</text>
<text x="726.2" y="914.2" font-size="21.0">2.274 21</text>
<text x="862.0" y="914.2" font-size="21.0">2.923 39</text>
<text x="469.6" y="951.7" font-size="21.5">c</text>
<text x="489.7" y="951.7" font-size="21.5">361 μs</text>
<text x="39.0" y="1232.3" font-size="21.3">电磁力/N</text>
<text x="133.2" y="1255.3" font-size="21.0">−0.710 003</text>
<text x="300.2" y="1255.3" font-size="21.0">−0.260 621</text>
<text x="472.0" y="1255.0" font-size="21.0">0.188 761</text>
<text x="640.0" y="1255.0" font-size="21.0">0.638 143</text>
<text x="804.4" y="1255.0" font-size="21.0">1.087 52</text>
<text x="212.3" y="1271.6" font-size="21.0">−0.485 312</text>
<text x="385.2" y="1271.6" font-size="21.0">−0.035 93</text>
<text x="551.6" y="1272.0" font-size="21.0">0.413 452</text>
<text x="723.8" y="1272.0" font-size="21.0">0.862 833</text>
<text x="865.1" y="1272.0" font-size="21.0">1.312 22</text>
<text x="474.2" y="1315.8" font-size="21.5">d</text>
<text x="496.2" y="1315.8" font-size="21.5">516 μs</text>
<text x="955.4" y="92.0" font-size="21.0" font-style="italic">y</text>
<text x="926.5" y="119.8" font-size="21.0" font-style="italic">x</text>
<text x="961.6" y="162.0" font-size="21.0" font-style="italic">z</text>
<text x="965.0" y="372.0" font-size="21.0" font-style="italic">y</text>
<text x="935.0" y="396.6" font-size="21.0" font-style="italic">x</text>
<text x="967.8" y="436.6" font-size="21.0" font-style="italic">z</text>
<text x="965.5" y="705.5" font-size="21.0" font-style="italic">y</text>
<text x="935.8" y="729.4" font-size="21.0" font-style="italic">x</text>
<text x="970.6" y="774.0" font-size="21.0" font-style="italic">z</text>
<text x="962.6" y="1064.0" font-size="21.0" font-style="italic">y</text>
<text x="929.0" y="1088.2" font-size="21.0" font-style="italic">x</text>
<text x="963.8" y="1129.7" font-size="21.0" font-style="italic">z</text>
<text transform="scale(0.860,1)" x="341.98 435.47 464.53 492.33 521.40 578.02 606.40 632.44 663.95 691.74 720.00 749.88 781.51" y="1353" font-size="21.5" style="font-family:'Noto Serif CJK SC', serif;stroke-width:0">图不同时刻向电磁力分布云图</text><text x="323.3" y="1352.6" font-size="23">11</text><text x="479" y="1353.3" font-size="20" font-style="italic">z</text><text x="695.5" y="1342" font-size="15.5">[23]</text>
<text x="16.6" y="1385.1" font-size="24.2" letter-spacing="0.435">Fig.11 Distribution of <tspan font-style="italic">z</tspan>-direction electromagnetic force at different times of numerical prediction</text>
</svg>
</body></html>
